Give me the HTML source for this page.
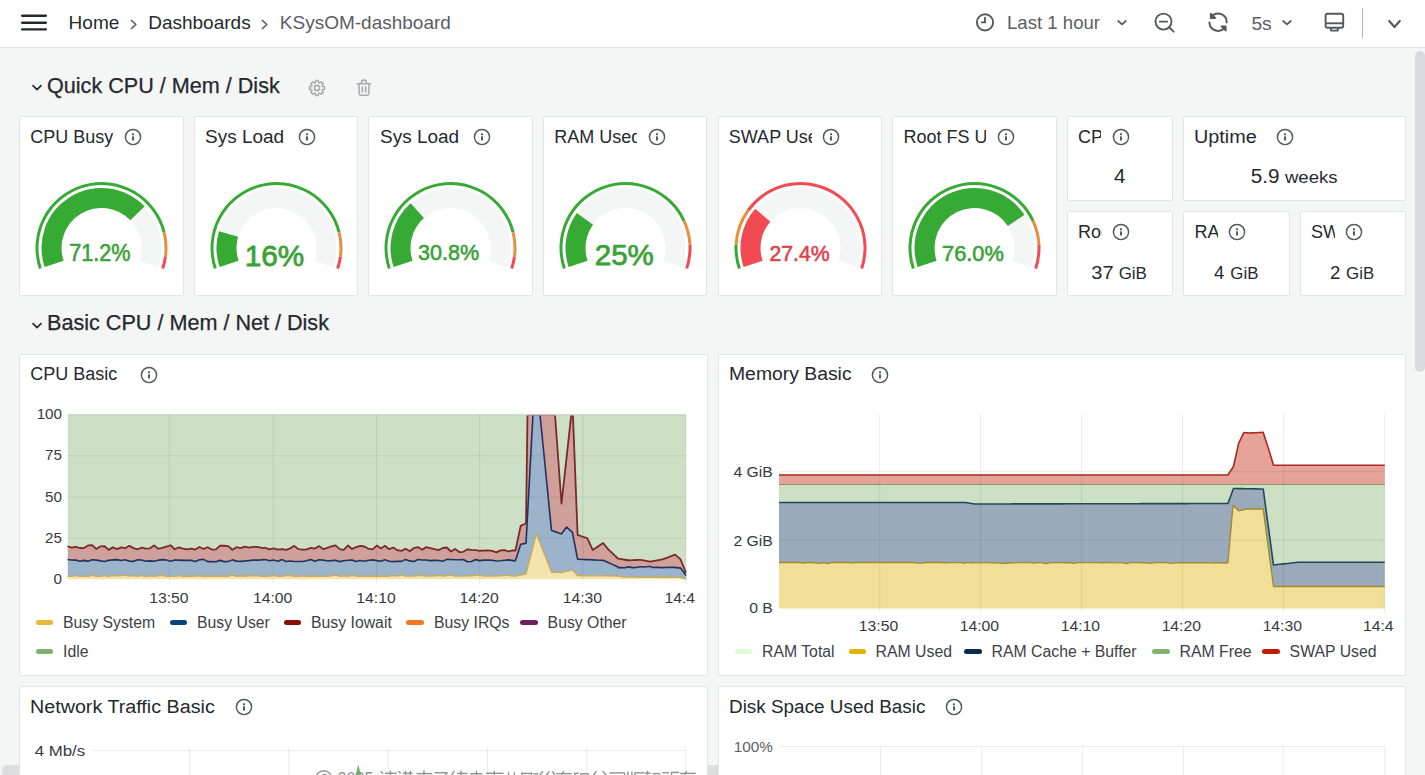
<!DOCTYPE html><html><head><meta charset="utf-8"><style>
html,body{margin:0;padding:0;width:1425px;height:775px;overflow:hidden;background:#f4f5f5;font-family:"Liberation Sans", sans-serif;}
.t{position:absolute;white-space:nowrap;}
.panel{position:absolute;box-sizing:border-box;background:#fff;border:1px solid #e3e4e5;border-radius:2px;overflow:hidden;}
.ptitle{position:absolute;left:10.3px;top:7.6px;height:24px;font-size:18px;line-height:24px;color:#24292e;white-space:nowrap;overflow:hidden;}
.gv{position:absolute;text-align:center;line-height:1;white-space:nowrap;}
.sv{position:absolute;text-align:center;white-space:nowrap;color:#24292e;}
.leg{position:absolute;height:5px;width:17.5px;border-radius:2.5px;}
</style></head><body><div style="position:absolute;left:0;top:0;width:1425px;height:47px;background:#fff;border-bottom:1px solid #e3e4e5"></div><svg style="position:absolute;left:20px;top:12px" width="28" height="22" viewBox="0 0 28 22"><rect x="1" y="2.6" width="26" height="2.3" rx="1.1" fill="#24292e"/><rect x="1" y="9.6" width="26" height="2.3" rx="1.1" fill="#24292e"/><rect x="1" y="16.2" width="26" height="2.3" rx="1.1" fill="#24292e"/></svg><div class="t" style="left:68.60px;top:12.92px;font-size:19px;line-height:19px;color:#24292e;">Home</div><svg style="position:absolute;left:129.5px;top:18.5px" width="8" height="11" viewBox="0 0 8 11"><path d="M1.5,1.5 L5.8,5.5 L1.5,9.5" fill="none" stroke="#5a5e63" stroke-width="1.7" stroke-linecap="round" stroke-linejoin="round"/></svg><div class="t" style="left:148.20px;top:12.92px;font-size:19px;line-height:19px;color:#24292e;">Dashboards</div><svg style="position:absolute;left:260.8px;top:18.5px" width="8" height="11" viewBox="0 0 8 11"><path d="M1.5,1.5 L5.8,5.5 L1.5,9.5" fill="none" stroke="#5a5e63" stroke-width="1.7" stroke-linecap="round" stroke-linejoin="round"/></svg><div class="t" style="left:279.80px;top:12.92px;font-size:19px;line-height:19px;color:#5a5e63;">KSysOM-dashboard</div><svg style="position:absolute;left:974px;top:11px" width="22" height="22" viewBox="0 0 22 22"><circle cx="11" cy="11.4" r="8.1" fill="none" stroke="#55595e" stroke-width="1.9"/><path d="M11,6.8 L11,11.4 L7.8,11.4" fill="none" stroke="#55595e" stroke-width="1.9" stroke-linecap="round"/></svg><div class="t" style="left:1007.00px;top:14.26px;font-size:18.6px;line-height:18.6px;color:#5a5e63;">Last 1 hour</div><svg style="position:absolute;left:1116px;top:19.2px" width="12" height="8" viewBox="0 0 12 8"><path d="M2.2,2 L6.0,5.4 L9.8,2" fill="none" stroke="#55595e" stroke-width="1.7" stroke-linecap="round" stroke-linejoin="round"/></svg><svg style="position:absolute;left:1153px;top:11px" width="24" height="24" viewBox="0 0 24 24"><circle cx="10.5" cy="10.6" r="8" fill="none" stroke="#55595e" stroke-width="1.9"/><path d="M6.8,10.6 L14.2,10.6 M16.3,16.4 L20.6,20.7" fill="none" stroke="#55595e" stroke-width="1.9" stroke-linecap="round"/></svg><svg style="position:absolute;left:1200px;top:5px" width="40" height="35" viewBox="0 0 40 35"><path d="M11.6,11.5 A8.6,8.6 0 0 1 26.66,17.4" fill="none" stroke="#55595e" stroke-width="2" stroke-linecap="round"/><path d="M9.46,17.6 A8.6,8.6 0 0 0 24.4,23" fill="none" stroke="#55595e" stroke-width="2" stroke-linecap="round"/><path d="M10.7,8.6 L10.7,13.1 L15.3,13.1 Z" fill="#55595e" stroke="#55595e" stroke-width="1.6" stroke-linejoin="round"/><path d="M21.3,21.3 L25.8,21.3 L25.8,25.8 Z" fill="#55595e" stroke="#55595e" stroke-width="1.6" stroke-linejoin="round"/></svg><div class="t" style="left:1251.40px;top:13.95px;font-size:19.2px;line-height:19.2px;color:#5a5e63;">5s</div><svg style="position:absolute;left:1280.6px;top:19.2px" width="12" height="8" viewBox="0 0 12 8"><path d="M2.2,2 L6.0,5.4 L9.8,2" fill="none" stroke="#55595e" stroke-width="1.7" stroke-linecap="round" stroke-linejoin="round"/></svg><svg style="position:absolute;left:1323px;top:11px" width="23" height="23" viewBox="0 0 23 23"><rect x="2.6" y="2.8" width="17.6" height="14" rx="2" fill="none" stroke="#55595e" stroke-width="1.9"/><path d="M2.6,12.3 L20.2,12.3" stroke="#55595e" stroke-width="1.9"/><path d="M8,17 L8,19.6 L14.8,19.6 L14.8,17" fill="none" stroke="#55595e" stroke-width="1.9" stroke-linejoin="round"/></svg><div style="position:absolute;left:1362px;top:8px;width:1px;height:30px;background:#b4b6b9"></div><svg style="position:absolute;left:1386.5px;top:19px" width="15" height="11" viewBox="0 0 15 11"><path d="M2.2,2 L7.5,8 L12.8,2" fill="none" stroke="#55595e" stroke-width="2.2" stroke-linecap="round" stroke-linejoin="round"/></svg><div style="position:absolute;left:1415px;top:51px;width:9.5px;height:321px;border-radius:5px;background:#d9dadd"></div><div style="position:absolute;left:2px;top:765px;width:1000px;height:12px;border-radius:5px;background:#dcdddf"></div><svg style="position:absolute;left:31px;top:84.00px" width="12" height="8" viewBox="0 0 12 8"><path d="M2,1.6 L6,5.6 L10,1.6" fill="none" stroke="#24292e" stroke-width="1.6" stroke-linecap="round" stroke-linejoin="round"/></svg><div class="t" style="left:47.00px;top:74.82px;font-size:21.6px;line-height:21.6px;color:#24292e;-webkit-text-stroke:0.25px #24292e;">Quick CPU / Mem / Disk</div><svg style="position:absolute;left:307px;top:78px" width="20" height="20" viewBox="0 0 20 20"><path d="M15.27,7.82 L15.51,8.52 L17.46,8.55 L17.46,11.45 L15.51,11.48 L15.27,12.18 L14.94,12.85 L16.30,14.25 L14.25,16.30 L12.85,14.94 L12.18,15.27 L11.48,15.51 L11.45,17.46 L8.55,17.46 L8.52,15.51 L7.82,15.27 L7.15,14.94 L5.75,16.30 L3.70,14.25 L5.06,12.85 L4.73,12.18 L4.49,11.48 L2.54,11.45 L2.54,8.55 L4.49,8.52 L4.73,7.82 L5.06,7.15 L3.70,5.75 L5.75,3.70 L7.15,5.06 L7.82,4.73 L8.52,4.49 L8.55,2.54 L11.45,2.54 L11.48,4.49 L12.18,4.73 L12.85,5.06 L14.25,3.70 L16.30,5.75 L14.94,7.15 Z" fill="none" stroke="#a9acaf" stroke-width="1.5" stroke-linejoin="round"/><circle cx="10" cy="10" r="2.6" fill="none" stroke="#a9acaf" stroke-width="1.6"/></svg><svg style="position:absolute;left:354px;top:78px" width="20" height="20" viewBox="0 0 20 20"><path d="M3.2,5.8 L16.6,5.8 M7.4,5.8 L7.4,4.6 A2.5,2.5 0 0 1 12.4,4.6 L12.4,5.8 M4.9,5.8 L5.2,15.6 A1.6,1.6 0 0 0 6.8,17.2 L13.2,17.2 A1.6,1.6 0 0 0 14.8,15.6 L15.1,5.8 M8.3,9 L8.3,14 M11.6,9 L11.6,14" fill="none" stroke="#a9acaf" stroke-width="1.6" stroke-linecap="round" stroke-linejoin="round"/></svg><svg style="position:absolute;left:31px;top:321.50px" width="12" height="8" viewBox="0 0 12 8"><path d="M2,1.6 L6,5.6 L10,1.6" fill="none" stroke="#24292e" stroke-width="1.6" stroke-linecap="round" stroke-linejoin="round"/></svg><div class="t" style="left:47.00px;top:312.32px;font-size:21.6px;line-height:21.6px;color:#24292e;-webkit-text-stroke:0.25px #24292e;">Basic CPU / Mem / Net / Disk</div><div class="panel" style="left:19.00px;top:116.00px;width:164.62px;height:180.00px"><svg style="position:absolute;left:0;top:0" width="164.62" height="180.00"><path d="M24.61,150.04 A60,60 0 1 1 138.41,150.04 L119.45,143.69 A40,40 0 1 0 43.58,143.69 Z" fill="#f4f5f5"/><path d="M24.61,150.04 A60,60 0 0 1 124.68,89.32 L110.29,103.22 A40,40 0 0 0 43.58,143.69 Z" fill="#37a935"/><path d="M18.92,151.94 A66,66 0 1 1 145.54,114.98 L142.63,115.71 A63,63 0 1 0 21.77,150.99 Z" fill="#37a935"/><path d="M145.54,114.98 A66,66 0 0 1 146.93,139.79 L143.95,139.39 A63,63 0 0 0 142.63,115.71 Z" fill="#e98e3d"/><path d="M146.93,139.79 A66,66 0 0 1 144.10,151.94 L141.26,150.99 A63,63 0 0 0 143.95,139.39 Z" fill="#f24a52"/></svg><div class="ptitle" style="width:83px">CPU Busy</div><svg style="position:absolute;left:103.8px;top:11.100000000000005px" width="18" height="18" viewBox="0 0 18 18"><circle cx="9" cy="9" r="7.6" fill="none" stroke="#55595e" stroke-width="1.45"/><rect x="8" y="5.3" width="2" height="1.9" rx="0.5" fill="#55595e"/><rect x="8" y="8.3" width="2" height="4.3" rx="0.5" fill="#55595e"/></svg><svg style="position:absolute;left:0;top:0" width="164.62" height="180.00"><text x="49.30" y="144.00" font-family="Liberation Sans" font-size="23.0" textLength="61.2" lengthAdjust="spacingAndGlyphs" fill="#3aa236" stroke="#3aa236" stroke-width="0.60">71.2%</text></svg></div><div class="panel" style="left:193.62px;top:116.00px;width:164.62px;height:180.00px"><svg style="position:absolute;left:0;top:0" width="164.62" height="180.00"><path d="M24.61,150.04 A60,60 0 1 1 138.41,150.04 L119.45,143.69 A40,40 0 1 0 43.58,143.69 Z" fill="#f4f5f5"/><path d="M24.61,150.04 A60,60 0 0 1 23.90,114.24 L43.10,119.83 A40,40 0 0 0 43.58,143.69 Z" fill="#37a935"/><path d="M18.92,151.94 A66,66 0 1 1 145.54,114.98 L142.63,115.71 A63,63 0 1 0 21.77,150.99 Z" fill="#37a935"/><path d="M145.54,114.98 A66,66 0 0 1 146.93,139.79 L143.95,139.39 A63,63 0 0 0 142.63,115.71 Z" fill="#e98e3d"/><path d="M146.93,139.79 A66,66 0 0 1 144.10,151.94 L141.26,150.99 A63,63 0 0 0 143.95,139.39 Z" fill="#f24a52"/></svg><div class="ptitle" style="width:83px"><span style="display:inline-block;transform:scaleX(1.055);transform-origin:0 0">Sys Load</span></div><svg style="position:absolute;left:103.8px;top:11.100000000000005px" width="18" height="18" viewBox="0 0 18 18"><circle cx="9" cy="9" r="7.6" fill="none" stroke="#55595e" stroke-width="1.45"/><rect x="8" y="5.3" width="2" height="1.9" rx="0.5" fill="#55595e"/><rect x="8" y="8.3" width="2" height="4.3" rx="0.5" fill="#55595e"/></svg><svg style="position:absolute;left:0;top:0" width="164.62" height="180.00"><text x="49.72" y="149.30" font-family="Liberation Sans" font-size="29.9" textLength="59.5" lengthAdjust="spacingAndGlyphs" fill="#3aa236" stroke="#3aa236" stroke-width="0.78">16%</text></svg></div><div class="panel" style="left:368.25px;top:116.00px;width:164.62px;height:180.00px"><svg style="position:absolute;left:0;top:0" width="164.62" height="180.00"><path d="M24.61,150.04 A60,60 0 1 1 138.41,150.04 L119.45,143.69 A40,40 0 1 0 43.58,143.69 Z" fill="#f4f5f5"/><path d="M24.61,150.04 A60,60 0 0 1 41.63,86.18 L54.92,101.12 A40,40 0 0 0 43.58,143.69 Z" fill="#37a935"/><path d="M18.92,151.94 A66,66 0 1 1 145.54,114.98 L142.63,115.71 A63,63 0 1 0 21.77,150.99 Z" fill="#37a935"/><path d="M145.54,114.98 A66,66 0 0 1 146.93,139.79 L143.95,139.39 A63,63 0 0 0 142.63,115.71 Z" fill="#e98e3d"/><path d="M146.93,139.79 A66,66 0 0 1 144.10,151.94 L141.26,150.99 A63,63 0 0 0 143.95,139.39 Z" fill="#f24a52"/></svg><div class="ptitle" style="width:83px"><span style="display:inline-block;transform:scaleX(1.055);transform-origin:0 0">Sys Load</span></div><svg style="position:absolute;left:103.8px;top:11.100000000000005px" width="18" height="18" viewBox="0 0 18 18"><circle cx="9" cy="9" r="7.6" fill="none" stroke="#55595e" stroke-width="1.45"/><rect x="8" y="5.3" width="2" height="1.9" rx="0.5" fill="#55595e"/><rect x="8" y="8.3" width="2" height="4.3" rx="0.5" fill="#55595e"/></svg><svg style="position:absolute;left:0;top:0" width="164.62" height="180.00"><text x="49.05" y="143.20" font-family="Liberation Sans" font-size="21.95" textLength="61.2" lengthAdjust="spacingAndGlyphs" fill="#3aa236" stroke="#3aa236" stroke-width="0.57">30.8%</text></svg></div><div class="panel" style="left:542.88px;top:116.00px;width:164.62px;height:180.00px"><svg style="position:absolute;left:0;top:0" width="164.62" height="180.00"><path d="M24.61,150.04 A60,60 0 1 1 138.41,150.04 L119.45,143.69 A40,40 0 1 0 43.58,143.69 Z" fill="#f4f5f5"/><path d="M24.61,150.04 A60,60 0 0 1 32.82,95.95 L49.05,107.63 A40,40 0 0 0 43.58,143.69 Z" fill="#37a935"/><path d="M18.92,151.94 A66,66 0 0 1 141.38,103.21 L138.66,104.47 A63,63 0 0 0 21.77,150.99 Z" fill="#37a935"/><path d="M141.38,103.21 A66,66 0 0 1 147.41,127.32 L144.41,127.48 A63,63 0 0 0 138.66,104.47 Z" fill="#e98e3d"/><path d="M147.41,127.32 A66,66 0 0 1 144.10,151.94 L141.26,150.99 A63,63 0 0 0 144.41,127.48 Z" fill="#f24a52"/></svg><div class="ptitle" style="width:83px">RAM Used</div><svg style="position:absolute;left:103.8px;top:11.100000000000005px" width="18" height="18" viewBox="0 0 18 18"><circle cx="9" cy="9" r="7.6" fill="none" stroke="#55595e" stroke-width="1.45"/><rect x="8" y="5.3" width="2" height="1.9" rx="0.5" fill="#55595e"/><rect x="8" y="8.3" width="2" height="4.3" rx="0.5" fill="#55595e"/></svg><svg style="position:absolute;left:0;top:0" width="164.62" height="180.00"><text x="50.77" y="147.80" font-family="Liberation Sans" font-size="28.9" textLength="59.1" lengthAdjust="spacingAndGlyphs" fill="#3aa236" stroke="#3aa236" stroke-width="0.75">25%</text></svg></div><div class="panel" style="left:717.50px;top:116.00px;width:164.62px;height:180.00px"><svg style="position:absolute;left:0;top:0" width="164.62" height="180.00"><path d="M24.61,150.04 A60,60 0 1 1 138.41,150.04 L119.45,143.69 A40,40 0 1 0 43.58,143.69 Z" fill="#f4f5f5"/><path d="M24.61,150.04 A60,60 0 0 1 36.20,91.67 L51.30,104.78 A40,40 0 0 0 43.58,143.69 Z" fill="#f24a52"/><path d="M18.92,151.94 A66,66 0 0 1 15.62,127.32 L18.61,127.48 A63,63 0 0 0 21.77,150.99 Z" fill="#37a935"/><path d="M15.62,127.32 A66,66 0 0 1 27.95,92.44 L30.38,94.19 A63,63 0 0 0 18.61,127.48 Z" fill="#e98e3d"/><path d="M27.95,92.44 A66,66 0 0 1 144.10,151.94 L141.26,150.99 A63,63 0 0 0 30.38,94.19 Z" fill="#f24a52"/></svg><div class="ptitle" style="width:83px">SWAP Used</div><svg style="position:absolute;left:103.8px;top:11.100000000000005px" width="18" height="18" viewBox="0 0 18 18"><circle cx="9" cy="9" r="7.6" fill="none" stroke="#55595e" stroke-width="1.45"/><rect x="8" y="5.3" width="2" height="1.9" rx="0.5" fill="#55595e"/><rect x="8" y="8.3" width="2" height="4.3" rx="0.5" fill="#55595e"/></svg><svg style="position:absolute;left:0;top:0" width="164.62" height="180.00"><text x="50.40" y="144.20" font-family="Liberation Sans" font-size="22.21" textLength="60.2" lengthAdjust="spacingAndGlyphs" fill="#e0424c" stroke="#e0424c" stroke-width="0.58">27.4%</text></svg></div><div class="panel" style="left:892.12px;top:116.00px;width:164.62px;height:180.00px"><svg style="position:absolute;left:0;top:0" width="164.62" height="180.00"><path d="M24.61,150.04 A60,60 0 1 1 138.41,150.04 L119.45,143.69 A40,40 0 1 0 43.58,143.69 Z" fill="#f4f5f5"/><path d="M24.61,150.04 A60,60 0 0 1 131.50,97.81 L114.84,108.88 A40,40 0 0 0 43.58,143.69 Z" fill="#37a935"/><path d="M18.92,151.94 A66,66 0 0 1 141.38,103.21 L138.66,104.47 A63,63 0 0 0 21.77,150.99 Z" fill="#37a935"/><path d="M141.38,103.21 A66,66 0 0 1 147.41,127.32 L144.41,127.48 A63,63 0 0 0 138.66,104.47 Z" fill="#e98e3d"/><path d="M147.41,127.32 A66,66 0 0 1 144.10,151.94 L141.26,150.99 A63,63 0 0 0 144.41,127.48 Z" fill="#f24a52"/></svg><div class="ptitle" style="width:83px">Root FS Used</div><svg style="position:absolute;left:103.8px;top:11.100000000000005px" width="18" height="18" viewBox="0 0 18 18"><circle cx="9" cy="9" r="7.6" fill="none" stroke="#55595e" stroke-width="1.45"/><rect x="8" y="5.3" width="2" height="1.9" rx="0.5" fill="#55595e"/><rect x="8" y="8.3" width="2" height="4.3" rx="0.5" fill="#55595e"/></svg><svg style="position:absolute;left:0;top:0" width="164.62" height="180.00"><text x="49.02" y="144.00" font-family="Liberation Sans" font-size="21.8" textLength="61.8" lengthAdjust="spacingAndGlyphs" fill="#3aa236" stroke="#3aa236" stroke-width="0.57">76.0%</text></svg></div><div class="panel" style="left:1066.75px;top:116.00px;width:106.42px;height:85.00px"><div class="ptitle" style="width:23px">CPU Cores</div><svg style="position:absolute;left:44.3px;top:11.100000000000005px" width="18" height="18" viewBox="0 0 18 18"><circle cx="9" cy="9" r="7.6" fill="none" stroke="#55595e" stroke-width="1.45"/><rect x="8" y="5.3" width="2" height="1.9" rx="0.5" fill="#55595e"/><rect x="8" y="8.3" width="2" height="4.3" rx="0.5" fill="#55595e"/></svg><svg style="position:absolute;left:-1067.75px;top:-117.00px" width="1425" height="400"><text x="1114.0" y="183.35" font-family="Liberation Sans" font-size="19.54" textLength="11.45" lengthAdjust="spacingAndGlyphs" fill="#24292e">4</text></svg></div><div class="panel" style="left:1183.17px;top:116.00px;width:222.83px;height:85.00px"><div class="ptitle" style="width:120px"><span style="display:inline-block;transform:scaleX(1.1);transform-origin:0 0">Uptime</span></div><svg style="position:absolute;left:91.6px;top:11.100000000000005px" width="18" height="18" viewBox="0 0 18 18"><circle cx="9" cy="9" r="7.6" fill="none" stroke="#55595e" stroke-width="1.45"/><rect x="8" y="5.3" width="2" height="1.9" rx="0.5" fill="#55595e"/><rect x="8" y="8.3" width="2" height="4.3" rx="0.5" fill="#55595e"/></svg><svg style="position:absolute;left:-1184.17px;top:-117.00px" width="1425" height="400"><text x="1250.65" y="183.35" font-family="Liberation Sans" font-size="19.54" textLength="28.79" lengthAdjust="spacingAndGlyphs" fill="#24292e">5.9</text><text x="1284.95" y="183.35" font-family="Liberation Sans" font-size="16.03" textLength="52.64" lengthAdjust="spacingAndGlyphs" fill="#24292e">weeks</text></svg></div><div class="panel" style="left:1066.75px;top:211.00px;width:106.42px;height:85.00px"><div class="ptitle" style="width:24px">RootFS Total</div><svg style="position:absolute;left:44.2px;top:11.100000000000005px" width="18" height="18" viewBox="0 0 18 18"><circle cx="9" cy="9" r="7.6" fill="none" stroke="#55595e" stroke-width="1.45"/><rect x="8" y="5.3" width="2" height="1.9" rx="0.5" fill="#55595e"/><rect x="8" y="8.3" width="2" height="4.3" rx="0.5" fill="#55595e"/></svg><svg style="position:absolute;left:-1067.75px;top:-212.00px" width="1425" height="400"><text x="1091.25" y="278.8" font-family="Liberation Sans" font-size="19.04" textLength="22.36" lengthAdjust="spacingAndGlyphs" fill="#24292e">37</text><text x="1118.65" y="279.15" font-family="Liberation Sans" font-size="17.25" textLength="28.28" lengthAdjust="spacingAndGlyphs" fill="#24292e">GiB</text></svg></div><div class="panel" style="left:1183.17px;top:211.00px;width:106.42px;height:85.00px"><div class="ptitle" style="width:24px">RAM Total</div><svg style="position:absolute;left:44.2px;top:11.100000000000005px" width="18" height="18" viewBox="0 0 18 18"><circle cx="9" cy="9" r="7.6" fill="none" stroke="#55595e" stroke-width="1.45"/><rect x="8" y="5.3" width="2" height="1.9" rx="0.5" fill="#55595e"/><rect x="8" y="8.3" width="2" height="4.3" rx="0.5" fill="#55595e"/></svg><svg style="position:absolute;left:-1184.17px;top:-212.00px" width="1425" height="400"><text x="1214.0" y="278.8" font-family="Liberation Sans" font-size="19.04" textLength="10.28" lengthAdjust="spacingAndGlyphs" fill="#24292e">4</text><text x="1230.3" y="279.15" font-family="Liberation Sans" font-size="17.25" textLength="28.11" lengthAdjust="spacingAndGlyphs" fill="#24292e">GiB</text></svg></div><div class="panel" style="left:1299.58px;top:211.00px;width:106.42px;height:85.00px"><div class="ptitle" style="width:24px">SWAP Total</div><svg style="position:absolute;left:44.2px;top:11.100000000000005px" width="18" height="18" viewBox="0 0 18 18"><circle cx="9" cy="9" r="7.6" fill="none" stroke="#55595e" stroke-width="1.45"/><rect x="8" y="5.3" width="2" height="1.9" rx="0.5" fill="#55595e"/><rect x="8" y="8.3" width="2" height="4.3" rx="0.5" fill="#55595e"/></svg><svg style="position:absolute;left:-1300.58px;top:-212.00px" width="1425" height="400"><text x="1330.1" y="278.8" font-family="Liberation Sans" font-size="19.04" textLength="10.4" lengthAdjust="spacingAndGlyphs" fill="#24292e">2</text><text x="1346.1" y="279.15" font-family="Liberation Sans" font-size="17.25" textLength="28.07" lengthAdjust="spacingAndGlyphs" fill="#24292e">GiB</text></svg></div><div class="panel" style="left:19.00px;top:353.50px;width:688.50px;height:322.50px"><div class="ptitle" style="width:200px">CPU Basic</div><svg style="position:absolute;left:119.7px;top:11.00000000000001px" width="18" height="18" viewBox="0 0 18 18"><circle cx="9" cy="9" r="7.6" fill="none" stroke="#55595e" stroke-width="1.45"/><rect x="8" y="5.3" width="2" height="1.9" rx="0.5" fill="#55595e"/><rect x="8" y="8.3" width="2" height="4.3" rx="0.5" fill="#55595e"/></svg></div><div class="panel" style="left:717.50px;top:353.50px;width:688.50px;height:322.50px"><div class="ptitle" style="width:200px;transform:scaleX(1.075);transform-origin:0 0">Memory Basic</div><svg style="position:absolute;left:152.59999999999997px;top:11.00000000000001px" width="18" height="18" viewBox="0 0 18 18"><circle cx="9" cy="9" r="7.6" fill="none" stroke="#55595e" stroke-width="1.45"/><rect x="8" y="5.3" width="2" height="1.9" rx="0.5" fill="#55595e"/><rect x="8" y="8.3" width="2" height="4.3" rx="0.5" fill="#55595e"/></svg></div><div class="panel" style="left:19.00px;top:686.00px;width:688.50px;height:322.50px"><div class="ptitle" style="width:300px;transform:scaleX(1.095);transform-origin:0 0">Network Traffic Basic</div><svg style="position:absolute;left:214.8px;top:11.099999999999977px" width="18" height="18" viewBox="0 0 18 18"><circle cx="9" cy="9" r="7.6" fill="none" stroke="#55595e" stroke-width="1.45"/><rect x="8" y="5.3" width="2" height="1.9" rx="0.5" fill="#55595e"/><rect x="8" y="8.3" width="2" height="4.3" rx="0.5" fill="#55595e"/></svg></div><div class="panel" style="left:717.50px;top:686.00px;width:688.50px;height:322.50px"><div class="ptitle" style="width:300px;transform:scaleX(1.05);transform-origin:0 0">Disk Space Used Basic</div><svg style="position:absolute;left:226.8px;top:11.099999999999977px" width="18" height="18" viewBox="0 0 18 18"><circle cx="9" cy="9" r="7.6" fill="none" stroke="#55595e" stroke-width="1.45"/><rect x="8" y="5.3" width="2" height="1.9" rx="0.5" fill="#55595e"/><rect x="8" y="8.3" width="2" height="4.3" rx="0.5" fill="#55595e"/></svg></div><svg style="position:absolute;left:0;top:0" width="1425" height="775"><clipPath id="cpuclip"><rect x="67.5" y="413.5" width="618.5" height="166.0"/></clipPath><g clip-path="url(#cpuclip)"><polygon points="67.50,414.50 71.62,414.50 75.75,414.50 79.87,414.50 83.99,414.50 88.12,414.50 92.24,414.50 96.36,414.50 100.49,414.50 104.61,414.50 108.73,414.50 112.86,414.50 116.98,414.50 121.10,414.50 125.23,414.50 129.35,414.50 133.47,414.50 137.60,414.50 141.72,414.50 145.84,414.50 149.97,414.50 154.09,414.50 158.21,414.50 162.34,414.50 166.46,414.50 170.58,414.50 174.71,414.50 178.83,414.50 182.95,414.50 187.08,414.50 191.20,414.50 195.32,414.50 199.45,414.50 203.57,414.50 207.69,414.50 211.82,414.50 215.94,414.50 220.06,414.50 224.19,414.50 228.31,414.50 232.43,414.50 236.56,414.50 240.68,414.50 244.80,414.50 248.93,414.50 253.05,414.50 257.17,414.50 261.30,414.50 265.42,414.50 269.54,414.50 273.67,414.50 277.79,414.50 281.91,414.50 286.04,414.50 290.16,414.50 294.28,414.50 298.41,414.50 302.53,414.50 306.65,414.50 310.78,414.50 314.90,414.50 319.02,414.50 323.15,414.50 327.27,414.50 331.39,414.50 335.52,414.50 339.64,414.50 343.76,414.50 347.89,414.50 352.01,414.50 356.13,414.50 360.26,414.50 364.38,414.50 368.50,414.50 370.00,414.50 372.63,414.50 376.75,414.50 380.87,414.50 385.00,414.50 389.12,414.50 393.24,414.50 397.37,414.50 401.49,414.50 405.61,414.50 409.74,414.50 413.86,414.50 417.98,414.50 422.11,414.50 426.23,414.50 430.00,414.50 430.35,414.50 434.48,414.50 438.60,414.50 442.72,414.50 446.85,414.50 450.97,414.50 455.09,414.50 459.22,414.50 463.34,414.50 467.46,414.50 471.59,414.50 475.71,414.50 479.83,414.50 483.96,414.50 488.08,414.50 492.20,414.50 496.33,414.50 500.45,414.50 504.57,414.50 508.70,414.50 512.82,414.50 515.00,414.50 515.50,414.50 516.94,414.50 520.70,414.50 521.07,414.50 525.19,414.50 526.00,414.50 527.50,414.50 529.31,414.50 533.00,414.50 533.44,414.50 536.40,414.50 537.56,414.50 540.00,414.50 541.68,414.50 545.81,414.50 549.93,414.50 551.50,414.50 554.05,414.50 555.00,414.50 558.18,414.50 561.50,414.50 562.00,414.50 562.30,414.50 566.42,414.50 566.60,414.50 570.55,414.50 571.30,414.50 572.40,414.50 572.90,414.50 574.67,414.50 577.60,414.50 577.80,414.50 578.79,414.50 582.92,414.50 587.04,414.50 587.40,414.50 591.16,414.50 592.70,414.50 595.29,414.50 599.41,414.50 603.10,414.50 603.53,414.50 603.70,414.50 607.66,414.50 608.30,414.50 611.78,414.50 615.90,414.50 618.00,414.50 618.20,414.50 620.03,414.50 624.15,414.50 625.00,414.50 628.27,414.50 629.20,414.50 632.40,414.50 636.52,414.50 639.70,414.50 640.64,414.50 644.77,414.50 648.89,414.50 650.20,414.50 653.01,414.50 657.14,414.50 661.26,414.50 663.00,414.50 665.38,414.50 669.51,414.50 673.63,414.50 675.00,414.50 675.10,414.50 677.75,414.50 680.00,414.50 680.40,414.50 681.88,414.50 686.00,414.50 686.00,572.60 681.88,562.73 680.40,559.20 680.00,558.85 677.75,556.90 675.10,554.60 675.00,554.64 673.63,555.16 669.51,556.73 665.38,558.29 663.00,559.20 661.26,559.53 657.14,560.30 653.01,561.07 650.20,561.60 648.89,561.38 644.77,560.67 640.64,559.96 639.70,559.80 636.52,559.98 632.40,560.22 629.20,560.40 628.27,560.26 625.00,559.75 624.15,559.62 620.03,558.98 618.20,558.70 618.00,558.51 615.90,556.54 611.78,552.67 608.30,549.40 607.66,548.61 603.70,543.74 603.53,543.53 603.10,543.00 599.41,545.48 595.29,548.26 592.70,550.00 591.16,546.61 587.40,538.30 587.04,538.18 582.92,536.74 578.79,535.31 577.80,534.97 577.60,534.90 574.67,459.84 572.90,414.50 572.40,414.50 571.30,414.50 570.55,421.36 566.60,457.28 566.42,458.89 562.30,496.42 562.00,499.15 561.50,503.70 558.18,458.09 555.00,414.50 554.05,414.50 551.50,414.50 549.93,414.50 545.81,414.50 541.68,414.50 540.00,414.50 537.56,414.50 536.40,414.50 533.44,414.50 533.00,414.50 529.31,414.50 527.50,414.50 526.00,523.40 525.19,523.77 521.07,525.63 520.70,525.80 516.94,543.64 515.50,550.50 515.00,550.49 512.82,550.47 508.70,551.48 504.57,550.04 500.45,550.36 496.33,552.39 492.20,550.80 488.08,550.46 483.96,550.59 479.83,550.77 475.71,550.13 471.59,549.80 467.46,549.35 463.34,551.79 459.22,552.04 455.09,548.90 450.97,551.51 446.85,547.50 442.72,548.00 438.60,550.13 434.48,549.11 430.35,548.05 430.00,548.05 426.23,547.12 422.11,549.72 417.98,547.07 413.86,548.05 409.74,551.22 405.61,548.71 401.49,550.86 397.37,550.24 393.24,547.46 389.12,549.19 385.00,545.82 380.87,548.41 376.75,545.54 372.63,549.38 370.00,548.79 368.50,548.79 364.38,546.51 360.26,545.82 356.13,547.07 352.01,548.94 347.89,545.52 343.76,549.85 339.64,549.20 335.52,545.40 331.39,546.47 327.27,547.85 323.15,549.09 319.02,546.11 314.90,548.53 310.78,547.83 306.65,549.44 302.53,549.73 298.41,549.23 294.28,545.88 290.16,548.32 286.04,549.86 281.91,549.21 277.79,549.56 273.67,548.37 269.54,549.44 265.42,547.90 261.30,547.91 257.17,546.78 253.05,546.95 248.93,547.53 244.80,546.54 240.68,548.11 236.56,547.19 232.43,549.73 228.31,546.14 224.19,545.75 220.06,545.57 215.94,549.32 211.82,549.59 207.69,547.23 203.57,548.94 199.45,547.00 195.32,549.52 191.20,548.53 187.08,549.32 182.95,548.55 178.83,547.37 174.71,549.25 170.58,545.25 166.46,546.55 162.34,547.94 158.21,548.74 154.09,545.41 149.97,548.32 145.84,548.66 141.72,547.61 137.60,549.27 133.47,548.15 129.35,545.82 125.23,548.17 121.10,547.39 116.98,549.12 112.86,547.36 108.73,549.88 104.61,546.22 100.49,546.34 96.36,549.12 92.24,545.16 88.12,545.41 83.99,548.10 79.87,548.00 75.75,546.88 71.62,547.71 67.50,546.24" fill="#cde0c5"/><polygon points="67.50,546.24 71.62,547.71 75.75,546.88 79.87,548.00 83.99,548.10 88.12,545.41 92.24,545.16 96.36,549.12 100.49,546.34 104.61,546.22 108.73,549.88 112.86,547.36 116.98,549.12 121.10,547.39 125.23,548.17 129.35,545.82 133.47,548.15 137.60,549.27 141.72,547.61 145.84,548.66 149.97,548.32 154.09,545.41 158.21,548.74 162.34,547.94 166.46,546.55 170.58,545.25 174.71,549.25 178.83,547.37 182.95,548.55 187.08,549.32 191.20,548.53 195.32,549.52 199.45,547.00 203.57,548.94 207.69,547.23 211.82,549.59 215.94,549.32 220.06,545.57 224.19,545.75 228.31,546.14 232.43,549.73 236.56,547.19 240.68,548.11 244.80,546.54 248.93,547.53 253.05,546.95 257.17,546.78 261.30,547.91 265.42,547.90 269.54,549.44 273.67,548.37 277.79,549.56 281.91,549.21 286.04,549.86 290.16,548.32 294.28,545.88 298.41,549.23 302.53,549.73 306.65,549.44 310.78,547.83 314.90,548.53 319.02,546.11 323.15,549.09 327.27,547.85 331.39,546.47 335.52,545.40 339.64,549.20 343.76,549.85 347.89,545.52 352.01,548.94 356.13,547.07 360.26,545.82 364.38,546.51 368.50,548.79 370.00,548.79 372.63,549.38 376.75,545.54 380.87,548.41 385.00,545.82 389.12,549.19 393.24,547.46 397.37,550.24 401.49,550.86 405.61,548.71 409.74,551.22 413.86,548.05 417.98,547.07 422.11,549.72 426.23,547.12 430.00,548.05 430.35,548.05 434.48,549.11 438.60,550.13 442.72,548.00 446.85,547.50 450.97,551.51 455.09,548.90 459.22,552.04 463.34,551.79 467.46,549.35 471.59,549.80 475.71,550.13 479.83,550.77 483.96,550.59 488.08,550.46 492.20,550.80 496.33,552.39 500.45,550.36 504.57,550.04 508.70,551.48 512.82,550.47 515.00,550.49 515.50,550.50 516.94,543.64 520.70,525.80 521.07,525.63 525.19,523.77 526.00,523.40 527.50,414.50 529.31,414.50 533.00,414.50 533.44,414.50 536.40,414.50 537.56,414.50 540.00,414.50 541.68,414.50 545.81,414.50 549.93,414.50 551.50,414.50 554.05,414.50 555.00,414.50 558.18,458.09 561.50,503.70 562.00,499.15 562.30,496.42 566.42,458.89 566.60,457.28 570.55,421.36 571.30,414.50 572.40,414.50 572.90,414.50 574.67,459.84 577.60,534.90 577.80,534.97 578.79,535.31 582.92,536.74 587.04,538.18 587.40,538.30 591.16,546.61 592.70,550.00 595.29,548.26 599.41,545.48 603.10,543.00 603.53,543.53 603.70,543.74 607.66,548.61 608.30,549.40 611.78,552.67 615.90,556.54 618.00,558.51 618.20,558.70 620.03,558.98 624.15,559.62 625.00,559.75 628.27,560.26 629.20,560.40 632.40,560.22 636.52,559.98 639.70,559.80 640.64,559.96 644.77,560.67 648.89,561.38 650.20,561.60 653.01,561.07 657.14,560.30 661.26,559.53 663.00,559.20 665.38,558.29 669.51,556.73 673.63,555.16 675.00,554.64 675.10,554.60 677.75,556.90 680.00,558.85 680.40,559.20 681.88,562.73 686.00,572.60 686.00,575.43 681.88,569.72 680.40,567.93 680.00,567.82 677.75,567.86 675.10,567.36 675.00,567.34 673.63,567.34 669.51,567.25 665.38,567.44 663.00,567.58 661.26,567.58 657.14,567.27 653.01,567.49 650.20,566.50 648.89,566.50 644.77,567.00 640.64,566.72 639.70,566.72 636.52,567.49 632.40,567.65 629.20,566.90 628.27,566.90 625.00,567.72 624.15,567.72 620.03,567.64 618.20,567.65 618.00,567.01 615.90,566.04 611.78,564.13 608.30,562.53 607.66,562.23 603.70,560.40 603.53,560.39 603.10,560.37 599.41,560.20 595.29,560.01 592.70,559.89 591.16,559.82 587.40,559.65 587.04,559.63 582.92,559.44 578.79,559.25 577.80,559.21 577.60,559.20 574.67,544.04 572.90,534.89 572.40,532.30 571.30,531.29 570.55,530.61 566.60,527.00 566.42,527.24 562.30,532.82 562.00,533.22 561.50,533.90 558.18,532.74 555.00,531.62 554.05,531.29 551.50,530.40 549.93,514.58 545.81,473.02 541.68,431.47 540.00,414.50 537.56,414.50 536.40,414.50 533.44,414.50 533.00,414.50 529.31,482.28 527.50,515.62 526.00,543.20 525.19,543.37 521.07,544.22 520.70,544.30 516.94,556.08 515.50,560.60 515.00,560.60 512.82,560.60 508.70,559.86 504.57,560.26 500.45,560.80 496.33,560.95 492.20,560.24 488.08,560.15 483.96,560.15 479.83,560.60 475.71,559.60 471.59,561.44 467.46,561.73 463.34,559.55 459.22,559.69 455.09,559.69 450.97,559.52 446.85,559.39 442.72,561.25 438.60,560.52 434.48,560.40 430.35,560.65 430.00,560.65 426.23,560.02 422.11,560.03 417.98,559.50 413.86,561.45 409.74,560.89 405.61,559.39 401.49,561.35 397.37,561.31 393.24,561.58 389.12,561.27 385.00,559.78 380.87,561.33 376.75,560.65 372.63,559.84 370.00,560.21 368.50,560.21 364.38,561.24 360.26,560.51 356.13,561.43 352.01,559.97 347.89,560.18 343.76,560.83 339.64,561.61 335.52,560.35 331.39,560.62 327.27,560.95 323.15,560.08 319.02,559.77 314.90,561.14 310.78,559.39 306.65,560.74 302.53,561.51 298.41,561.50 294.28,561.57 290.16,561.01 286.04,561.52 281.91,559.46 277.79,561.29 273.67,560.03 269.54,560.76 265.42,559.51 261.30,559.89 257.17,560.16 253.05,560.04 248.93,560.59 244.80,560.93 240.68,561.35 236.56,561.13 232.43,559.87 228.31,561.56 224.19,561.62 220.06,560.38 215.94,561.70 211.82,561.44 207.69,561.60 203.57,559.34 199.45,559.70 195.32,561.54 191.20,560.31 187.08,560.33 182.95,560.33 178.83,560.16 174.71,559.97 170.58,561.23 166.46,560.02 162.34,559.63 158.21,560.15 154.09,561.25 149.97,560.86 145.84,561.25 141.72,559.99 137.60,559.76 133.47,561.33 129.35,561.25 125.23,559.77 121.10,560.58 116.98,559.60 112.86,559.85 108.73,560.39 104.61,561.43 100.49,560.87 96.36,560.11 92.24,559.71 88.12,561.36 83.99,560.36 79.87,561.30 75.75,560.10 71.62,560.07 67.50,559.54" fill="#d0a09a"/><polygon points="67.50,559.54 71.62,560.07 75.75,560.10 79.87,561.30 83.99,560.36 88.12,561.36 92.24,559.71 96.36,560.11 100.49,560.87 104.61,561.43 108.73,560.39 112.86,559.85 116.98,559.60 121.10,560.58 125.23,559.77 129.35,561.25 133.47,561.33 137.60,559.76 141.72,559.99 145.84,561.25 149.97,560.86 154.09,561.25 158.21,560.15 162.34,559.63 166.46,560.02 170.58,561.23 174.71,559.97 178.83,560.16 182.95,560.33 187.08,560.33 191.20,560.31 195.32,561.54 199.45,559.70 203.57,559.34 207.69,561.60 211.82,561.44 215.94,561.70 220.06,560.38 224.19,561.62 228.31,561.56 232.43,559.87 236.56,561.13 240.68,561.35 244.80,560.93 248.93,560.59 253.05,560.04 257.17,560.16 261.30,559.89 265.42,559.51 269.54,560.76 273.67,560.03 277.79,561.29 281.91,559.46 286.04,561.52 290.16,561.01 294.28,561.57 298.41,561.50 302.53,561.51 306.65,560.74 310.78,559.39 314.90,561.14 319.02,559.77 323.15,560.08 327.27,560.95 331.39,560.62 335.52,560.35 339.64,561.61 343.76,560.83 347.89,560.18 352.01,559.97 356.13,561.43 360.26,560.51 364.38,561.24 368.50,560.21 370.00,560.21 372.63,559.84 376.75,560.65 380.87,561.33 385.00,559.78 389.12,561.27 393.24,561.58 397.37,561.31 401.49,561.35 405.61,559.39 409.74,560.89 413.86,561.45 417.98,559.50 422.11,560.03 426.23,560.02 430.00,560.65 430.35,560.65 434.48,560.40 438.60,560.52 442.72,561.25 446.85,559.39 450.97,559.52 455.09,559.69 459.22,559.69 463.34,559.55 467.46,561.73 471.59,561.44 475.71,559.60 479.83,560.60 483.96,560.15 488.08,560.15 492.20,560.24 496.33,560.95 500.45,560.80 504.57,560.26 508.70,559.86 512.82,560.60 515.00,560.60 515.50,560.60 516.94,556.08 520.70,544.30 521.07,544.22 525.19,543.37 526.00,543.20 527.50,515.62 529.31,482.28 533.00,414.50 533.44,414.50 536.40,414.50 537.56,414.50 540.00,414.50 541.68,431.47 545.81,473.02 549.93,514.58 551.50,530.40 554.05,531.29 555.00,531.62 558.18,532.74 561.50,533.90 562.00,533.22 562.30,532.82 566.42,527.24 566.60,527.00 570.55,530.61 571.30,531.29 572.40,532.30 572.90,534.89 574.67,544.04 577.60,559.20 577.80,559.21 578.79,559.25 582.92,559.44 587.04,559.63 587.40,559.65 591.16,559.82 592.70,559.89 595.29,560.01 599.41,560.20 603.10,560.37 603.53,560.39 603.70,560.40 607.66,562.23 608.30,562.53 611.78,564.13 615.90,566.04 618.00,567.01 618.20,567.65 620.03,567.64 624.15,567.72 625.00,567.72 628.27,566.90 629.20,566.90 632.40,567.65 636.52,567.49 639.70,566.72 640.64,566.72 644.77,567.00 648.89,566.50 650.20,566.50 653.01,567.49 657.14,567.27 661.26,567.58 663.00,567.58 665.38,567.44 669.51,567.25 673.63,567.34 675.00,567.34 675.10,567.36 677.75,567.86 680.00,567.82 680.40,567.93 681.88,569.72 686.00,575.43 686.00,579.00 681.88,577.83 680.40,577.41 680.00,577.30 677.75,577.30 675.10,577.29 675.00,577.29 673.63,577.29 669.51,577.28 665.38,577.27 663.00,577.27 661.26,577.27 657.14,577.26 653.01,577.25 650.20,577.25 648.89,577.24 644.77,577.24 640.64,577.23 639.70,577.23 636.52,577.22 632.40,577.21 629.20,577.21 628.27,577.21 625.00,577.20 624.15,577.05 620.03,576.35 618.20,576.03 618.00,576.00 615.90,575.98 611.78,575.95 608.30,575.93 607.66,575.92 603.70,575.89 603.53,575.89 603.10,575.89 599.41,575.86 595.29,575.83 592.70,575.81 591.16,575.80 587.40,575.77 587.04,575.77 582.92,575.74 578.79,575.71 577.80,575.70 577.60,575.49 574.67,572.34 572.90,570.44 572.40,569.90 571.30,570.17 570.55,570.36 566.60,571.35 566.42,571.39 562.30,572.42 562.00,572.50 561.50,572.49 558.18,572.39 555.00,572.30 554.05,572.27 551.50,572.20 549.93,568.22 545.81,557.76 541.68,547.30 540.00,543.03 537.56,536.84 536.40,533.90 533.44,545.33 533.00,547.01 529.31,561.22 527.50,568.22 526.00,574.00 525.19,574.16 521.07,574.99 520.70,575.06 516.94,575.81 515.50,576.10 515.00,576.20 512.82,576.20 508.70,575.27 504.57,575.38 500.45,575.80 496.33,576.20 492.20,576.21 488.08,576.21 483.96,576.21 479.83,575.40 475.71,575.12 471.59,575.89 467.46,575.77 463.34,576.21 459.22,576.21 455.09,576.21 450.97,575.12 446.85,575.73 442.72,576.22 438.60,575.40 434.48,575.77 430.35,576.22 430.00,576.22 426.23,576.22 422.11,575.50 417.98,575.47 413.86,576.22 409.74,576.11 405.61,576.22 401.49,575.05 397.37,576.23 393.24,575.64 389.12,576.23 385.00,576.23 380.87,576.23 376.75,576.23 372.63,576.23 370.00,576.23 368.50,576.23 364.38,576.23 360.26,576.23 356.13,576.16 352.01,575.43 347.89,576.24 343.76,575.83 339.64,576.24 335.52,575.17 331.39,575.87 327.27,576.24 323.15,576.24 319.02,576.16 314.90,576.24 310.78,576.25 306.65,576.25 302.53,575.81 298.41,576.25 294.28,576.25 290.16,575.28 286.04,575.73 281.91,576.25 277.79,576.25 273.67,575.33 269.54,576.02 265.42,576.26 261.30,576.26 257.17,575.94 253.05,575.72 248.93,575.89 244.80,576.26 240.68,575.74 236.56,576.26 232.43,575.14 228.31,576.26 224.19,576.26 220.06,576.27 215.94,576.27 211.82,576.27 207.69,576.27 203.57,576.27 199.45,575.74 195.32,576.11 191.20,576.27 187.08,576.27 182.95,576.27 178.83,575.54 174.71,576.25 170.58,576.28 166.46,576.28 162.34,575.26 158.21,575.76 154.09,576.28 149.97,575.85 145.84,576.28 141.72,575.71 137.60,576.28 133.47,575.63 129.35,576.22 125.23,575.22 121.10,575.53 116.98,575.97 112.86,575.51 108.73,576.29 104.61,575.52 100.49,576.29 96.36,576.29 92.24,575.42 88.12,576.30 83.99,576.30 79.87,576.30 75.75,575.71 71.62,576.30 67.50,576.30" fill="#9cb4cb"/><polygon points="67.50,576.30 71.62,576.30 75.75,575.71 79.87,576.30 83.99,576.30 88.12,576.30 92.24,575.42 96.36,576.29 100.49,576.29 104.61,575.52 108.73,576.29 112.86,575.51 116.98,575.97 121.10,575.53 125.23,575.22 129.35,576.22 133.47,575.63 137.60,576.28 141.72,575.71 145.84,576.28 149.97,575.85 154.09,576.28 158.21,575.76 162.34,575.26 166.46,576.28 170.58,576.28 174.71,576.25 178.83,575.54 182.95,576.27 187.08,576.27 191.20,576.27 195.32,576.11 199.45,575.74 203.57,576.27 207.69,576.27 211.82,576.27 215.94,576.27 220.06,576.27 224.19,576.26 228.31,576.26 232.43,575.14 236.56,576.26 240.68,575.74 244.80,576.26 248.93,575.89 253.05,575.72 257.17,575.94 261.30,576.26 265.42,576.26 269.54,576.02 273.67,575.33 277.79,576.25 281.91,576.25 286.04,575.73 290.16,575.28 294.28,576.25 298.41,576.25 302.53,575.81 306.65,576.25 310.78,576.25 314.90,576.24 319.02,576.16 323.15,576.24 327.27,576.24 331.39,575.87 335.52,575.17 339.64,576.24 343.76,575.83 347.89,576.24 352.01,575.43 356.13,576.16 360.26,576.23 364.38,576.23 368.50,576.23 370.00,576.23 372.63,576.23 376.75,576.23 380.87,576.23 385.00,576.23 389.12,576.23 393.24,575.64 397.37,576.23 401.49,575.05 405.61,576.22 409.74,576.11 413.86,576.22 417.98,575.47 422.11,575.50 426.23,576.22 430.00,576.22 430.35,576.22 434.48,575.77 438.60,575.40 442.72,576.22 446.85,575.73 450.97,575.12 455.09,576.21 459.22,576.21 463.34,576.21 467.46,575.77 471.59,575.89 475.71,575.12 479.83,575.40 483.96,576.21 488.08,576.21 492.20,576.21 496.33,576.20 500.45,575.80 504.57,575.38 508.70,575.27 512.82,576.20 515.00,576.20 515.50,576.10 516.94,575.81 520.70,575.06 521.07,574.99 525.19,574.16 526.00,574.00 527.50,568.22 529.31,561.22 533.00,547.01 533.44,545.33 536.40,533.90 537.56,536.84 540.00,543.03 541.68,547.30 545.81,557.76 549.93,568.22 551.50,572.20 554.05,572.27 555.00,572.30 558.18,572.39 561.50,572.49 562.00,572.50 562.30,572.42 566.42,571.39 566.60,571.35 570.55,570.36 571.30,570.17 572.40,569.90 572.90,570.44 574.67,572.34 577.60,575.49 577.80,575.70 578.79,575.71 582.92,575.74 587.04,575.77 587.40,575.77 591.16,575.80 592.70,575.81 595.29,575.83 599.41,575.86 603.10,575.89 603.53,575.89 603.70,575.89 607.66,575.92 608.30,575.93 611.78,575.95 615.90,575.98 618.00,576.00 618.20,576.03 620.03,576.35 624.15,577.05 625.00,577.20 628.27,577.21 629.20,577.21 632.40,577.21 636.52,577.22 639.70,577.23 640.64,577.23 644.77,577.24 648.89,577.24 650.20,577.25 653.01,577.25 657.14,577.26 661.26,577.27 663.00,577.27 665.38,577.27 669.51,577.28 673.63,577.29 675.00,577.29 675.10,577.29 677.75,577.30 680.00,577.30 680.40,577.41 681.88,577.83 686.00,579.00 686.00,579.50 681.88,579.50 680.40,579.50 680.00,579.50 677.75,579.50 675.10,579.50 675.00,579.50 673.63,579.50 669.51,579.50 665.38,579.50 663.00,579.50 661.26,579.50 657.14,579.50 653.01,579.50 650.20,579.50 648.89,579.50 644.77,579.50 640.64,579.50 639.70,579.50 636.52,579.50 632.40,579.50 629.20,579.50 628.27,579.50 625.00,579.50 624.15,579.50 620.03,579.50 618.20,579.50 618.00,579.50 615.90,579.50 611.78,579.50 608.30,579.50 607.66,579.50 603.70,579.50 603.53,579.50 603.10,579.50 599.41,579.50 595.29,579.50 592.70,579.50 591.16,579.50 587.40,579.50 587.04,579.50 582.92,579.50 578.79,579.50 577.80,579.50 577.60,579.50 574.67,579.50 572.90,579.50 572.40,579.50 571.30,579.50 570.55,579.50 566.60,579.50 566.42,579.50 562.30,579.50 562.00,579.50 561.50,579.50 558.18,579.50 555.00,579.50 554.05,579.50 551.50,579.50 549.93,579.50 545.81,579.50 541.68,579.50 540.00,579.50 537.56,579.50 536.40,579.50 533.44,579.50 533.00,579.50 529.31,579.50 527.50,579.50 526.00,579.50 525.19,579.50 521.07,579.50 520.70,579.50 516.94,579.50 515.50,579.50 515.00,579.50 512.82,579.50 508.70,579.50 504.57,579.50 500.45,579.50 496.33,579.50 492.20,579.50 488.08,579.50 483.96,579.50 479.83,579.50 475.71,579.50 471.59,579.50 467.46,579.50 463.34,579.50 459.22,579.50 455.09,579.50 450.97,579.50 446.85,579.50 442.72,579.50 438.60,579.50 434.48,579.50 430.35,579.50 430.00,579.50 426.23,579.50 422.11,579.50 417.98,579.50 413.86,579.50 409.74,579.50 405.61,579.50 401.49,579.50 397.37,579.50 393.24,579.50 389.12,579.50 385.00,579.50 380.87,579.50 376.75,579.50 372.63,579.50 370.00,579.50 368.50,579.50 364.38,579.50 360.26,579.50 356.13,579.50 352.01,579.50 347.89,579.50 343.76,579.50 339.64,579.50 335.52,579.50 331.39,579.50 327.27,579.50 323.15,579.50 319.02,579.50 314.90,579.50 310.78,579.50 306.65,579.50 302.53,579.50 298.41,579.50 294.28,579.50 290.16,579.50 286.04,579.50 281.91,579.50 277.79,579.50 273.67,579.50 269.54,579.50 265.42,579.50 261.30,579.50 257.17,579.50 253.05,579.50 248.93,579.50 244.80,579.50 240.68,579.50 236.56,579.50 232.43,579.50 228.31,579.50 224.19,579.50 220.06,579.50 215.94,579.50 211.82,579.50 207.69,579.50 203.57,579.50 199.45,579.50 195.32,579.50 191.20,579.50 187.08,579.50 182.95,579.50 178.83,579.50 174.71,579.50 170.58,579.50 166.46,579.50 162.34,579.50 158.21,579.50 154.09,579.50 149.97,579.50 145.84,579.50 141.72,579.50 137.60,579.50 133.47,579.50 129.35,579.50 125.23,579.50 121.10,579.50 116.98,579.50 112.86,579.50 108.73,579.50 104.61,579.50 100.49,579.50 96.36,579.50 92.24,579.50 88.12,579.50 83.99,579.50 79.87,579.50 75.75,579.50 71.62,579.50 67.50,579.50" fill="#f5e3af"/></g><line x1="67.5" y1="414.5" x2="686.0" y2="414.5" stroke="rgba(36,41,46,0.09)" stroke-width="1"/><line x1="67.5" y1="455.75" x2="686.0" y2="455.75" stroke="rgba(36,41,46,0.09)" stroke-width="1"/><line x1="67.5" y1="497" x2="686.0" y2="497" stroke="rgba(36,41,46,0.09)" stroke-width="1"/><line x1="67.5" y1="538.25" x2="686.0" y2="538.25" stroke="rgba(36,41,46,0.09)" stroke-width="1"/><line x1="169.4" y1="414.5" x2="169.4" y2="584.5" stroke="rgba(36,41,46,0.09)" stroke-width="1"/><line x1="273.2" y1="414.5" x2="273.2" y2="584.5" stroke="rgba(36,41,46,0.09)" stroke-width="1"/><line x1="376.5" y1="414.5" x2="376.5" y2="584.5" stroke="rgba(36,41,46,0.09)" stroke-width="1"/><line x1="479.6" y1="414.5" x2="479.6" y2="584.5" stroke="rgba(36,41,46,0.09)" stroke-width="1"/><line x1="582.9" y1="414.5" x2="582.9" y2="584.5" stroke="rgba(36,41,46,0.09)" stroke-width="1"/><line x1="686.0" y1="414.5" x2="686.0" y2="584.5" stroke="rgba(36,41,46,0.09)" stroke-width="1"/><clipPath id="cpuclip2"><rect x="66.5" y="415.4" width="620.5" height="165.0"/></clipPath><g clip-path="url(#cpuclip2)"><polyline points="67.50,576.30 71.62,576.30 75.75,575.71 79.87,576.30 83.99,576.30 88.12,576.30 92.24,575.42 96.36,576.29 100.49,576.29 104.61,575.52 108.73,576.29 112.86,575.51 116.98,575.97 121.10,575.53 125.23,575.22 129.35,576.22 133.47,575.63 137.60,576.28 141.72,575.71 145.84,576.28 149.97,575.85 154.09,576.28 158.21,575.76 162.34,575.26 166.46,576.28 170.58,576.28 174.71,576.25 178.83,575.54 182.95,576.27 187.08,576.27 191.20,576.27 195.32,576.11 199.45,575.74 203.57,576.27 207.69,576.27 211.82,576.27 215.94,576.27 220.06,576.27 224.19,576.26 228.31,576.26 232.43,575.14 236.56,576.26 240.68,575.74 244.80,576.26 248.93,575.89 253.05,575.72 257.17,575.94 261.30,576.26 265.42,576.26 269.54,576.02 273.67,575.33 277.79,576.25 281.91,576.25 286.04,575.73 290.16,575.28 294.28,576.25 298.41,576.25 302.53,575.81 306.65,576.25 310.78,576.25 314.90,576.24 319.02,576.16 323.15,576.24 327.27,576.24 331.39,575.87 335.52,575.17 339.64,576.24 343.76,575.83 347.89,576.24 352.01,575.43 356.13,576.16 360.26,576.23 364.38,576.23 368.50,576.23 370.00,576.23 372.63,576.23 376.75,576.23 380.87,576.23 385.00,576.23 389.12,576.23 393.24,575.64 397.37,576.23 401.49,575.05 405.61,576.22 409.74,576.11 413.86,576.22 417.98,575.47 422.11,575.50 426.23,576.22 430.00,576.22 430.35,576.22 434.48,575.77 438.60,575.40 442.72,576.22 446.85,575.73 450.97,575.12 455.09,576.21 459.22,576.21 463.34,576.21 467.46,575.77 471.59,575.89 475.71,575.12 479.83,575.40 483.96,576.21 488.08,576.21 492.20,576.21 496.33,576.20 500.45,575.80 504.57,575.38 508.70,575.27 512.82,576.20 515.00,576.20 515.50,576.10 516.94,575.81 520.70,575.06 521.07,574.99 525.19,574.16 526.00,574.00 527.50,568.22 529.31,561.22 533.00,547.01 533.44,545.33 536.40,533.90 537.56,536.84 540.00,543.03 541.68,547.30 545.81,557.76 549.93,568.22 551.50,572.20 554.05,572.27 555.00,572.30 558.18,572.39 561.50,572.49 562.00,572.50 562.30,572.42 566.42,571.39 566.60,571.35 570.55,570.36 571.30,570.17 572.40,569.90 572.90,570.44 574.67,572.34 577.60,575.49 577.80,575.70 578.79,575.71 582.92,575.74 587.04,575.77 587.40,575.77 591.16,575.80 592.70,575.81 595.29,575.83 599.41,575.86 603.10,575.89 603.53,575.89 603.70,575.89 607.66,575.92 608.30,575.93 611.78,575.95 615.90,575.98 618.00,576.00 618.20,576.03 620.03,576.35 624.15,577.05 625.00,577.20 628.27,577.21 629.20,577.21 632.40,577.21 636.52,577.22 639.70,577.23 640.64,577.23 644.77,577.24 648.89,577.24 650.20,577.25 653.01,577.25 657.14,577.26 661.26,577.27 663.00,577.27 665.38,577.27 669.51,577.28 673.63,577.29 675.00,577.29 675.10,577.29 677.75,577.30 680.00,577.30 680.40,577.41 681.88,577.83 686.00,579.00" fill="none" stroke="#c9a640" stroke-width="1.3" stroke-opacity="0.9" stroke-linejoin="round"/><polyline points="67.50,559.54 71.62,560.07 75.75,560.10 79.87,561.30 83.99,560.36 88.12,561.36 92.24,559.71 96.36,560.11 100.49,560.87 104.61,561.43 108.73,560.39 112.86,559.85 116.98,559.60 121.10,560.58 125.23,559.77 129.35,561.25 133.47,561.33 137.60,559.76 141.72,559.99 145.84,561.25 149.97,560.86 154.09,561.25 158.21,560.15 162.34,559.63 166.46,560.02 170.58,561.23 174.71,559.97 178.83,560.16 182.95,560.33 187.08,560.33 191.20,560.31 195.32,561.54 199.45,559.70 203.57,559.34 207.69,561.60 211.82,561.44 215.94,561.70 220.06,560.38 224.19,561.62 228.31,561.56 232.43,559.87 236.56,561.13 240.68,561.35 244.80,560.93 248.93,560.59 253.05,560.04 257.17,560.16 261.30,559.89 265.42,559.51 269.54,560.76 273.67,560.03 277.79,561.29 281.91,559.46 286.04,561.52 290.16,561.01 294.28,561.57 298.41,561.50 302.53,561.51 306.65,560.74 310.78,559.39 314.90,561.14 319.02,559.77 323.15,560.08 327.27,560.95 331.39,560.62 335.52,560.35 339.64,561.61 343.76,560.83 347.89,560.18 352.01,559.97 356.13,561.43 360.26,560.51 364.38,561.24 368.50,560.21 370.00,560.21 372.63,559.84 376.75,560.65 380.87,561.33 385.00,559.78 389.12,561.27 393.24,561.58 397.37,561.31 401.49,561.35 405.61,559.39 409.74,560.89 413.86,561.45 417.98,559.50 422.11,560.03 426.23,560.02 430.00,560.65 430.35,560.65 434.48,560.40 438.60,560.52 442.72,561.25 446.85,559.39 450.97,559.52 455.09,559.69 459.22,559.69 463.34,559.55 467.46,561.73 471.59,561.44 475.71,559.60 479.83,560.60 483.96,560.15 488.08,560.15 492.20,560.24 496.33,560.95 500.45,560.80 504.57,560.26 508.70,559.86 512.82,560.60 515.00,560.60 515.50,560.60 516.94,556.08 520.70,544.30 521.07,544.22 525.19,543.37 526.00,543.20 527.50,515.62 529.31,482.28 533.00,414.50 533.44,414.50 536.40,414.50 537.56,414.50 540.00,414.50 541.68,431.47 545.81,473.02 549.93,514.58 551.50,530.40 554.05,531.29 555.00,531.62 558.18,532.74 561.50,533.90 562.00,533.22 562.30,532.82 566.42,527.24 566.60,527.00 570.55,530.61 571.30,531.29 572.40,532.30 572.90,534.89 574.67,544.04 577.60,559.20 577.80,559.21 578.79,559.25 582.92,559.44 587.04,559.63 587.40,559.65 591.16,559.82 592.70,559.89 595.29,560.01 599.41,560.20 603.10,560.37 603.53,560.39 603.70,560.40 607.66,562.23 608.30,562.53 611.78,564.13 615.90,566.04 618.00,567.01 618.20,567.65 620.03,567.64 624.15,567.72 625.00,567.72 628.27,566.90 629.20,566.90 632.40,567.65 636.52,567.49 639.70,566.72 640.64,566.72 644.77,567.00 648.89,566.50 650.20,566.50 653.01,567.49 657.14,567.27 661.26,567.58 663.00,567.58 665.38,567.44 669.51,567.25 673.63,567.34 675.00,567.34 675.10,567.36 677.75,567.86 680.00,567.82 680.40,567.93 681.88,569.72 686.00,575.43" fill="none" stroke="#24305e" stroke-width="1.6" stroke-opacity="1" stroke-linejoin="round"/><polyline points="67.50,546.24 71.62,547.71 75.75,546.88 79.87,548.00 83.99,548.10 88.12,545.41 92.24,545.16 96.36,549.12 100.49,546.34 104.61,546.22 108.73,549.88 112.86,547.36 116.98,549.12 121.10,547.39 125.23,548.17 129.35,545.82 133.47,548.15 137.60,549.27 141.72,547.61 145.84,548.66 149.97,548.32 154.09,545.41 158.21,548.74 162.34,547.94 166.46,546.55 170.58,545.25 174.71,549.25 178.83,547.37 182.95,548.55 187.08,549.32 191.20,548.53 195.32,549.52 199.45,547.00 203.57,548.94 207.69,547.23 211.82,549.59 215.94,549.32 220.06,545.57 224.19,545.75 228.31,546.14 232.43,549.73 236.56,547.19 240.68,548.11 244.80,546.54 248.93,547.53 253.05,546.95 257.17,546.78 261.30,547.91 265.42,547.90 269.54,549.44 273.67,548.37 277.79,549.56 281.91,549.21 286.04,549.86 290.16,548.32 294.28,545.88 298.41,549.23 302.53,549.73 306.65,549.44 310.78,547.83 314.90,548.53 319.02,546.11 323.15,549.09 327.27,547.85 331.39,546.47 335.52,545.40 339.64,549.20 343.76,549.85 347.89,545.52 352.01,548.94 356.13,547.07 360.26,545.82 364.38,546.51 368.50,548.79 370.00,548.79 372.63,549.38 376.75,545.54 380.87,548.41 385.00,545.82 389.12,549.19 393.24,547.46 397.37,550.24 401.49,550.86 405.61,548.71 409.74,551.22 413.86,548.05 417.98,547.07 422.11,549.72 426.23,547.12 430.00,548.05 430.35,548.05 434.48,549.11 438.60,550.13 442.72,548.00 446.85,547.50 450.97,551.51 455.09,548.90 459.22,552.04 463.34,551.79 467.46,549.35 471.59,549.80 475.71,550.13 479.83,550.77 483.96,550.59 488.08,550.46 492.20,550.80 496.33,552.39 500.45,550.36 504.57,550.04 508.70,551.48 512.82,550.47 515.00,550.49 515.50,550.50 516.94,543.64 520.70,525.80 521.07,525.63 525.19,523.77 526.00,523.40 527.50,414.50 529.31,414.50 533.00,414.50 533.44,414.50 536.40,414.50 537.56,414.50 540.00,414.50 541.68,414.50 545.81,414.50 549.93,414.50 551.50,414.50 554.05,414.50 555.00,414.50 558.18,458.09 561.50,503.70 562.00,499.15 562.30,496.42 566.42,458.89 566.60,457.28 570.55,421.36 571.30,414.50 572.40,414.50 572.90,414.50 574.67,459.84 577.60,534.90 577.80,534.97 578.79,535.31 582.92,536.74 587.04,538.18 587.40,538.30 591.16,546.61 592.70,550.00 595.29,548.26 599.41,545.48 603.10,543.00 603.53,543.53 603.70,543.74 607.66,548.61 608.30,549.40 611.78,552.67 615.90,556.54 618.00,558.51 618.20,558.70 620.03,558.98 624.15,559.62 625.00,559.75 628.27,560.26 629.20,560.40 632.40,560.22 636.52,559.98 639.70,559.80 640.64,559.96 644.77,560.67 648.89,561.38 650.20,561.60 653.01,561.07 657.14,560.30 661.26,559.53 663.00,559.20 665.38,558.29 669.51,556.73 673.63,555.16 675.00,554.64 675.10,554.60 677.75,556.90 680.00,558.85 680.40,559.20 681.88,562.73 686.00,572.60" fill="none" stroke="#7a2a2a" stroke-width="1.8" stroke-opacity="1" stroke-linejoin="round"/><line x1="67.5" y1="415.0" x2="686.0" y2="415.0" stroke="#a9c79e" stroke-width="1"/></g></svg><svg style="position:absolute;left:0;top:0" width="1425" height="775"><polygon points="779.00,475.00 783.04,475.00 787.08,475.00 791.11,475.00 795.15,475.00 799.19,475.00 803.23,475.00 807.27,475.00 811.30,475.00 815.34,475.00 819.38,475.00 823.42,475.00 827.46,475.00 831.49,475.00 835.53,475.00 839.57,475.00 843.61,475.00 847.65,475.00 851.68,475.00 855.72,475.00 859.76,475.00 863.80,475.00 867.84,475.00 871.87,475.00 875.91,475.00 879.95,475.00 883.99,475.00 888.03,475.00 892.06,475.00 896.10,475.00 900.14,475.00 904.18,475.00 908.22,475.00 912.25,475.00 916.29,475.00 920.33,475.00 924.37,475.00 928.41,475.00 932.44,475.00 936.48,475.00 940.52,475.00 944.56,475.00 948.60,475.00 952.63,475.00 956.67,475.00 960.71,475.00 964.75,475.00 965.00,475.00 968.79,475.00 972.82,475.00 975.00,475.00 976.86,475.00 980.90,475.00 984.94,475.00 988.98,475.00 993.01,475.00 997.05,475.00 1001.09,475.00 1005.13,475.00 1009.17,475.00 1013.20,475.00 1017.24,475.00 1021.28,475.00 1025.32,475.00 1029.36,475.00 1033.39,475.00 1037.43,475.00 1041.47,475.00 1045.51,475.00 1049.55,475.00 1053.58,475.00 1057.62,475.00 1061.66,475.00 1065.70,475.00 1069.74,475.00 1073.77,475.00 1077.81,475.00 1081.85,475.00 1085.89,475.00 1089.93,475.00 1093.96,475.00 1098.00,475.00 1102.04,475.00 1106.08,475.00 1110.12,475.00 1114.15,475.00 1118.19,475.00 1122.23,475.00 1126.27,475.00 1130.31,475.00 1134.34,475.00 1138.38,475.00 1142.42,475.00 1146.46,475.00 1150.50,475.00 1154.53,475.00 1158.57,475.00 1162.61,475.00 1166.65,475.00 1170.69,475.00 1174.72,475.00 1178.76,475.00 1182.80,475.00 1186.84,475.00 1190.88,475.00 1194.91,475.00 1198.95,475.00 1202.99,475.00 1207.03,475.00 1211.07,475.00 1215.10,475.00 1219.14,475.00 1223.18,475.00 1227.22,475.00 1227.90,475.00 1231.26,469.91 1233.00,467.26 1233.50,466.50 1235.29,458.46 1238.70,443.20 1239.33,441.91 1243.37,433.68 1243.90,432.60 1246.50,432.80 1247.41,432.88 1249.00,433.00 1251.45,432.90 1255.48,432.73 1259.52,432.56 1263.20,432.40 1263.56,433.51 1267.60,445.93 1268.40,448.40 1271.64,459.06 1273.50,465.20 1275.67,465.20 1279.71,465.20 1283.75,465.20 1287.79,465.20 1291.83,465.20 1295.86,465.20 1298.00,465.20 1299.90,465.20 1303.94,465.20 1307.98,465.20 1312.02,465.20 1316.05,465.20 1320.09,465.20 1324.13,465.20 1328.17,465.20 1332.21,465.20 1336.24,465.20 1340.28,465.20 1344.32,465.20 1348.36,465.20 1352.40,465.20 1356.43,465.20 1360.47,465.20 1364.51,465.20 1368.55,465.20 1372.59,465.20 1376.62,465.20 1380.66,465.20 1384.70,465.20 1384.70,484.50 1380.66,484.50 1376.62,484.50 1372.59,484.50 1368.55,484.50 1364.51,484.50 1360.47,484.50 1356.43,484.50 1352.40,484.50 1348.36,484.50 1344.32,484.50 1340.28,484.50 1336.24,484.50 1332.21,484.50 1328.17,484.50 1324.13,484.50 1320.09,484.50 1316.05,484.50 1312.02,484.50 1307.98,484.50 1303.94,484.50 1299.90,484.50 1298.00,484.50 1295.86,484.50 1291.83,484.50 1287.79,484.50 1283.75,484.50 1279.71,484.50 1275.67,484.50 1273.50,484.50 1271.64,484.50 1268.40,484.50 1267.60,484.50 1263.56,484.50 1263.20,484.50 1259.52,484.50 1255.48,484.50 1251.45,484.50 1249.00,484.50 1247.41,484.50 1246.50,484.50 1243.90,484.50 1243.37,484.50 1239.33,484.50 1238.70,484.50 1235.29,484.50 1233.50,484.50 1233.00,484.50 1231.26,484.50 1227.90,484.50 1227.22,484.50 1223.18,484.50 1219.14,484.50 1215.10,484.50 1211.07,484.50 1207.03,484.50 1202.99,484.50 1198.95,484.50 1194.91,484.50 1190.88,484.50 1186.84,484.50 1182.80,484.50 1178.76,484.50 1174.72,484.50 1170.69,484.50 1166.65,484.50 1162.61,484.50 1158.57,484.50 1154.53,484.50 1150.50,484.50 1146.46,484.50 1142.42,484.50 1138.38,484.50 1134.34,484.50 1130.31,484.50 1126.27,484.50 1122.23,484.50 1118.19,484.50 1114.15,484.50 1110.12,484.50 1106.08,484.50 1102.04,484.50 1098.00,484.50 1093.96,484.50 1089.93,484.50 1085.89,484.50 1081.85,484.50 1077.81,484.50 1073.77,484.50 1069.74,484.50 1065.70,484.50 1061.66,484.50 1057.62,484.50 1053.58,484.50 1049.55,484.50 1045.51,484.50 1041.47,484.50 1037.43,484.50 1033.39,484.50 1029.36,484.50 1025.32,484.50 1021.28,484.50 1017.24,484.50 1013.20,484.50 1009.17,484.50 1005.13,484.50 1001.09,484.50 997.05,484.50 993.01,484.50 988.98,484.50 984.94,484.50 980.90,484.50 976.86,484.50 975.00,484.50 972.82,484.50 968.79,484.50 965.00,484.50 964.75,484.50 960.71,484.50 956.67,484.50 952.63,484.50 948.60,484.50 944.56,484.50 940.52,484.50 936.48,484.50 932.44,484.50 928.41,484.50 924.37,484.50 920.33,484.50 916.29,484.50 912.25,484.50 908.22,484.50 904.18,484.50 900.14,484.50 896.10,484.50 892.06,484.50 888.03,484.50 883.99,484.50 879.95,484.50 875.91,484.50 871.87,484.50 867.84,484.50 863.80,484.50 859.76,484.50 855.72,484.50 851.68,484.50 847.65,484.50 843.61,484.50 839.57,484.50 835.53,484.50 831.49,484.50 827.46,484.50 823.42,484.50 819.38,484.50 815.34,484.50 811.30,484.50 807.27,484.50 803.23,484.50 799.19,484.50 795.15,484.50 791.11,484.50 787.08,484.50 783.04,484.50 779.00,484.50" fill="#e5a39a"/><polygon points="779.00,484.50 783.04,484.50 787.08,484.50 791.11,484.50 795.15,484.50 799.19,484.50 803.23,484.50 807.27,484.50 811.30,484.50 815.34,484.50 819.38,484.50 823.42,484.50 827.46,484.50 831.49,484.50 835.53,484.50 839.57,484.50 843.61,484.50 847.65,484.50 851.68,484.50 855.72,484.50 859.76,484.50 863.80,484.50 867.84,484.50 871.87,484.50 875.91,484.50 879.95,484.50 883.99,484.50 888.03,484.50 892.06,484.50 896.10,484.50 900.14,484.50 904.18,484.50 908.22,484.50 912.25,484.50 916.29,484.50 920.33,484.50 924.37,484.50 928.41,484.50 932.44,484.50 936.48,484.50 940.52,484.50 944.56,484.50 948.60,484.50 952.63,484.50 956.67,484.50 960.71,484.50 964.75,484.50 965.00,484.50 968.79,484.50 972.82,484.50 975.00,484.50 976.86,484.50 980.90,484.50 984.94,484.50 988.98,484.50 993.01,484.50 997.05,484.50 1001.09,484.50 1005.13,484.50 1009.17,484.50 1013.20,484.50 1017.24,484.50 1021.28,484.50 1025.32,484.50 1029.36,484.50 1033.39,484.50 1037.43,484.50 1041.47,484.50 1045.51,484.50 1049.55,484.50 1053.58,484.50 1057.62,484.50 1061.66,484.50 1065.70,484.50 1069.74,484.50 1073.77,484.50 1077.81,484.50 1081.85,484.50 1085.89,484.50 1089.93,484.50 1093.96,484.50 1098.00,484.50 1102.04,484.50 1106.08,484.50 1110.12,484.50 1114.15,484.50 1118.19,484.50 1122.23,484.50 1126.27,484.50 1130.31,484.50 1134.34,484.50 1138.38,484.50 1142.42,484.50 1146.46,484.50 1150.50,484.50 1154.53,484.50 1158.57,484.50 1162.61,484.50 1166.65,484.50 1170.69,484.50 1174.72,484.50 1178.76,484.50 1182.80,484.50 1186.84,484.50 1190.88,484.50 1194.91,484.50 1198.95,484.50 1202.99,484.50 1207.03,484.50 1211.07,484.50 1215.10,484.50 1219.14,484.50 1223.18,484.50 1227.22,484.50 1227.90,484.50 1231.26,484.50 1233.00,484.50 1233.50,484.50 1235.29,484.50 1238.70,484.50 1239.33,484.50 1243.37,484.50 1243.90,484.50 1246.50,484.50 1247.41,484.50 1249.00,484.50 1251.45,484.50 1255.48,484.50 1259.52,484.50 1263.20,484.50 1263.56,484.50 1267.60,484.50 1268.40,484.50 1271.64,484.50 1273.50,484.50 1275.67,484.50 1279.71,484.50 1283.75,484.50 1287.79,484.50 1291.83,484.50 1295.86,484.50 1298.00,484.50 1299.90,484.50 1303.94,484.50 1307.98,484.50 1312.02,484.50 1316.05,484.50 1320.09,484.50 1324.13,484.50 1328.17,484.50 1332.21,484.50 1336.24,484.50 1340.28,484.50 1344.32,484.50 1348.36,484.50 1352.40,484.50 1356.43,484.50 1360.47,484.50 1364.51,484.50 1368.55,484.50 1372.59,484.50 1376.62,484.50 1380.66,484.50 1384.70,484.50 1384.70,562.30 1380.66,562.30 1376.62,562.30 1372.59,562.30 1368.55,562.30 1364.51,562.30 1360.47,562.30 1356.43,562.30 1352.40,562.30 1348.36,562.30 1344.32,562.30 1340.28,562.30 1336.24,562.30 1332.21,562.30 1328.17,562.30 1324.13,562.30 1320.09,562.30 1316.05,562.30 1312.02,562.30 1307.98,562.30 1303.94,562.30 1299.90,562.30 1298.00,562.30 1295.86,562.54 1291.83,562.98 1287.79,563.43 1283.75,563.87 1279.71,564.32 1275.67,564.76 1273.50,565.00 1271.64,551.25 1268.40,527.37 1267.60,521.45 1263.56,491.66 1263.20,489.00 1259.52,488.94 1255.48,488.87 1251.45,488.80 1249.00,488.76 1247.41,488.73 1246.50,488.72 1243.90,488.68 1243.37,488.67 1239.33,488.60 1238.70,488.59 1235.29,488.53 1233.50,488.50 1233.00,489.84 1231.26,494.51 1227.90,503.50 1227.22,503.50 1223.18,503.51 1219.14,503.52 1215.10,503.53 1211.07,503.53 1207.03,503.54 1202.99,503.55 1198.95,503.56 1194.91,503.57 1190.88,503.57 1186.84,503.58 1182.80,503.59 1178.76,503.60 1174.72,503.61 1170.69,503.61 1166.65,503.62 1162.61,503.63 1158.57,503.64 1154.53,503.65 1150.50,503.65 1146.46,503.66 1142.42,503.67 1138.38,503.68 1134.34,503.68 1130.31,503.69 1126.27,503.70 1122.23,503.71 1118.19,503.72 1114.15,503.72 1110.12,503.73 1106.08,503.74 1102.04,503.75 1098.00,503.76 1093.96,503.76 1089.93,503.77 1085.89,503.78 1081.85,503.79 1077.81,503.80 1073.77,503.80 1069.74,503.81 1065.70,503.82 1061.66,503.83 1057.62,503.84 1053.58,503.84 1049.55,503.85 1045.51,503.86 1041.47,503.87 1037.43,503.88 1033.39,503.88 1029.36,503.89 1025.32,503.90 1021.28,503.91 1017.24,503.92 1013.20,503.92 1009.17,503.93 1005.13,503.94 1001.09,503.95 997.05,503.96 993.01,503.96 988.98,503.97 984.94,503.98 980.90,503.99 976.86,504.00 975.00,504.00 972.82,503.67 968.79,503.07 965.00,502.50 964.75,502.50 960.71,502.50 956.67,502.50 952.63,502.50 948.60,502.50 944.56,502.50 940.52,502.50 936.48,502.50 932.44,502.50 928.41,502.50 924.37,502.50 920.33,502.50 916.29,502.50 912.25,502.50 908.22,502.50 904.18,502.50 900.14,502.50 896.10,502.50 892.06,502.50 888.03,502.50 883.99,502.50 879.95,502.50 875.91,502.50 871.87,502.50 867.84,502.50 863.80,502.50 859.76,502.50 855.72,502.50 851.68,502.50 847.65,502.50 843.61,502.50 839.57,502.50 835.53,502.50 831.49,502.50 827.46,502.50 823.42,502.50 819.38,502.50 815.34,502.50 811.30,502.50 807.27,502.50 803.23,502.50 799.19,502.50 795.15,502.50 791.11,502.50 787.08,502.50 783.04,502.50 779.00,502.50" fill="#cde0c5"/><polygon points="779.00,502.50 783.04,502.50 787.08,502.50 791.11,502.50 795.15,502.50 799.19,502.50 803.23,502.50 807.27,502.50 811.30,502.50 815.34,502.50 819.38,502.50 823.42,502.50 827.46,502.50 831.49,502.50 835.53,502.50 839.57,502.50 843.61,502.50 847.65,502.50 851.68,502.50 855.72,502.50 859.76,502.50 863.80,502.50 867.84,502.50 871.87,502.50 875.91,502.50 879.95,502.50 883.99,502.50 888.03,502.50 892.06,502.50 896.10,502.50 900.14,502.50 904.18,502.50 908.22,502.50 912.25,502.50 916.29,502.50 920.33,502.50 924.37,502.50 928.41,502.50 932.44,502.50 936.48,502.50 940.52,502.50 944.56,502.50 948.60,502.50 952.63,502.50 956.67,502.50 960.71,502.50 964.75,502.50 965.00,502.50 968.79,503.07 972.82,503.67 975.00,504.00 976.86,504.00 980.90,503.99 984.94,503.98 988.98,503.97 993.01,503.96 997.05,503.96 1001.09,503.95 1005.13,503.94 1009.17,503.93 1013.20,503.92 1017.24,503.92 1021.28,503.91 1025.32,503.90 1029.36,503.89 1033.39,503.88 1037.43,503.88 1041.47,503.87 1045.51,503.86 1049.55,503.85 1053.58,503.84 1057.62,503.84 1061.66,503.83 1065.70,503.82 1069.74,503.81 1073.77,503.80 1077.81,503.80 1081.85,503.79 1085.89,503.78 1089.93,503.77 1093.96,503.76 1098.00,503.76 1102.04,503.75 1106.08,503.74 1110.12,503.73 1114.15,503.72 1118.19,503.72 1122.23,503.71 1126.27,503.70 1130.31,503.69 1134.34,503.68 1138.38,503.68 1142.42,503.67 1146.46,503.66 1150.50,503.65 1154.53,503.65 1158.57,503.64 1162.61,503.63 1166.65,503.62 1170.69,503.61 1174.72,503.61 1178.76,503.60 1182.80,503.59 1186.84,503.58 1190.88,503.57 1194.91,503.57 1198.95,503.56 1202.99,503.55 1207.03,503.54 1211.07,503.53 1215.10,503.53 1219.14,503.52 1223.18,503.51 1227.22,503.50 1227.90,503.50 1231.26,494.51 1233.00,489.84 1233.50,488.50 1235.29,488.53 1238.70,488.59 1239.33,488.60 1243.37,488.67 1243.90,488.68 1246.50,488.72 1247.41,488.73 1249.00,488.76 1251.45,488.80 1255.48,488.87 1259.52,488.94 1263.20,489.00 1263.56,491.66 1267.60,521.45 1268.40,527.37 1271.64,551.25 1273.50,565.00 1275.67,564.76 1279.71,564.32 1283.75,563.87 1287.79,563.43 1291.83,562.98 1295.86,562.54 1298.00,562.30 1299.90,562.30 1303.94,562.30 1307.98,562.30 1312.02,562.30 1316.05,562.30 1320.09,562.30 1324.13,562.30 1328.17,562.30 1332.21,562.30 1336.24,562.30 1340.28,562.30 1344.32,562.30 1348.36,562.30 1352.40,562.30 1356.43,562.30 1360.47,562.30 1364.51,562.30 1368.55,562.30 1372.59,562.30 1376.62,562.30 1380.66,562.30 1384.70,562.30 1384.70,586.50 1380.66,586.50 1376.62,586.50 1372.59,586.50 1368.55,586.50 1364.51,586.50 1360.47,586.50 1356.43,586.50 1352.40,586.50 1348.36,586.50 1344.32,586.50 1340.28,586.50 1336.24,586.50 1332.21,586.50 1328.17,586.50 1324.13,586.50 1320.09,586.50 1316.05,586.50 1312.02,586.50 1307.98,586.50 1303.94,586.50 1299.90,586.50 1298.00,586.50 1295.86,586.50 1291.83,586.50 1287.79,586.50 1283.75,586.50 1279.71,586.50 1275.67,586.50 1273.50,586.50 1271.64,572.47 1268.40,548.13 1267.60,542.09 1263.56,511.71 1263.20,509.00 1259.52,509.00 1255.48,509.00 1251.45,509.00 1249.00,509.00 1247.41,509.00 1246.50,509.00 1243.90,509.60 1243.37,509.72 1239.33,510.65 1238.70,510.80 1235.29,507.45 1233.50,505.69 1233.00,505.20 1231.26,524.86 1227.90,562.70 1227.22,562.70 1223.18,563.06 1219.14,562.70 1215.10,562.69 1211.07,562.87 1207.03,562.69 1202.99,562.69 1198.95,562.70 1194.91,562.69 1190.88,562.68 1186.84,562.68 1182.80,562.68 1178.76,562.68 1174.72,562.90 1170.69,563.39 1166.65,562.67 1162.61,562.67 1158.57,562.67 1154.53,562.67 1150.50,563.37 1146.46,562.66 1142.42,562.70 1138.38,562.66 1134.34,562.66 1130.31,562.66 1126.27,563.60 1122.23,562.65 1118.19,562.65 1114.15,562.84 1110.12,562.65 1106.08,562.65 1102.04,562.80 1098.00,562.64 1093.96,562.64 1089.93,562.64 1085.89,562.64 1081.85,562.63 1077.81,562.63 1073.77,563.23 1069.74,562.63 1065.70,562.72 1061.66,562.63 1057.62,562.62 1053.58,562.62 1049.55,562.88 1045.51,563.61 1041.47,562.62 1037.43,562.62 1033.39,563.01 1029.36,562.61 1025.32,562.61 1021.28,562.61 1017.24,562.61 1013.20,562.87 1009.17,563.02 1005.13,563.24 1001.09,563.33 997.05,562.60 993.01,563.15 988.98,562.59 984.94,562.65 980.90,562.84 976.86,562.59 975.00,562.59 972.82,562.92 968.79,562.58 965.00,562.58 964.75,563.21 960.71,562.58 956.67,562.58 952.63,562.58 948.60,562.58 944.56,562.78 940.52,562.57 936.48,562.57 932.44,562.57 928.41,562.57 924.37,562.56 920.33,563.33 916.29,562.85 912.25,562.56 908.22,562.56 904.18,562.56 900.14,562.55 896.10,562.55 892.06,562.55 888.03,562.55 883.99,562.55 879.95,562.54 875.91,562.54 871.87,562.54 867.84,562.54 863.80,562.54 859.76,562.54 855.72,562.56 851.68,562.72 847.65,562.53 843.61,562.54 839.57,562.53 835.53,562.53 831.49,562.52 827.46,563.50 823.42,562.52 819.38,563.33 815.34,562.82 811.30,562.51 807.27,562.51 803.23,563.02 799.19,562.51 795.15,562.51 791.11,562.51 787.08,562.50 783.04,562.50 779.00,562.50" fill="#9aaabb"/><polygon points="779.00,562.50 783.04,562.50 787.08,562.50 791.11,562.51 795.15,562.51 799.19,562.51 803.23,563.02 807.27,562.51 811.30,562.51 815.34,562.82 819.38,563.33 823.42,562.52 827.46,563.50 831.49,562.52 835.53,562.53 839.57,562.53 843.61,562.54 847.65,562.53 851.68,562.72 855.72,562.56 859.76,562.54 863.80,562.54 867.84,562.54 871.87,562.54 875.91,562.54 879.95,562.54 883.99,562.55 888.03,562.55 892.06,562.55 896.10,562.55 900.14,562.55 904.18,562.56 908.22,562.56 912.25,562.56 916.29,562.85 920.33,563.33 924.37,562.56 928.41,562.57 932.44,562.57 936.48,562.57 940.52,562.57 944.56,562.78 948.60,562.58 952.63,562.58 956.67,562.58 960.71,562.58 964.75,563.21 965.00,562.58 968.79,562.58 972.82,562.92 975.00,562.59 976.86,562.59 980.90,562.84 984.94,562.65 988.98,562.59 993.01,563.15 997.05,562.60 1001.09,563.33 1005.13,563.24 1009.17,563.02 1013.20,562.87 1017.24,562.61 1021.28,562.61 1025.32,562.61 1029.36,562.61 1033.39,563.01 1037.43,562.62 1041.47,562.62 1045.51,563.61 1049.55,562.88 1053.58,562.62 1057.62,562.62 1061.66,562.63 1065.70,562.72 1069.74,562.63 1073.77,563.23 1077.81,562.63 1081.85,562.63 1085.89,562.64 1089.93,562.64 1093.96,562.64 1098.00,562.64 1102.04,562.80 1106.08,562.65 1110.12,562.65 1114.15,562.84 1118.19,562.65 1122.23,562.65 1126.27,563.60 1130.31,562.66 1134.34,562.66 1138.38,562.66 1142.42,562.70 1146.46,562.66 1150.50,563.37 1154.53,562.67 1158.57,562.67 1162.61,562.67 1166.65,562.67 1170.69,563.39 1174.72,562.90 1178.76,562.68 1182.80,562.68 1186.84,562.68 1190.88,562.68 1194.91,562.69 1198.95,562.70 1202.99,562.69 1207.03,562.69 1211.07,562.87 1215.10,562.69 1219.14,562.70 1223.18,563.06 1227.22,562.70 1227.90,562.70 1231.26,524.86 1233.00,505.20 1233.50,505.69 1235.29,507.45 1238.70,510.80 1239.33,510.65 1243.37,509.72 1243.90,509.60 1246.50,509.00 1247.41,509.00 1249.00,509.00 1251.45,509.00 1255.48,509.00 1259.52,509.00 1263.20,509.00 1263.56,511.71 1267.60,542.09 1268.40,548.13 1271.64,572.47 1273.50,586.50 1275.67,586.50 1279.71,586.50 1283.75,586.50 1287.79,586.50 1291.83,586.50 1295.86,586.50 1298.00,586.50 1299.90,586.50 1303.94,586.50 1307.98,586.50 1312.02,586.50 1316.05,586.50 1320.09,586.50 1324.13,586.50 1328.17,586.50 1332.21,586.50 1336.24,586.50 1340.28,586.50 1344.32,586.50 1348.36,586.50 1352.40,586.50 1356.43,586.50 1360.47,586.50 1364.51,586.50 1368.55,586.50 1372.59,586.50 1376.62,586.50 1380.66,586.50 1384.70,586.50 1384.70,608.50 1380.66,608.50 1376.62,608.50 1372.59,608.50 1368.55,608.50 1364.51,608.50 1360.47,608.50 1356.43,608.50 1352.40,608.50 1348.36,608.50 1344.32,608.50 1340.28,608.50 1336.24,608.50 1332.21,608.50 1328.17,608.50 1324.13,608.50 1320.09,608.50 1316.05,608.50 1312.02,608.50 1307.98,608.50 1303.94,608.50 1299.90,608.50 1298.00,608.50 1295.86,608.50 1291.83,608.50 1287.79,608.50 1283.75,608.50 1279.71,608.50 1275.67,608.50 1273.50,608.50 1271.64,608.50 1268.40,608.50 1267.60,608.50 1263.56,608.50 1263.20,608.50 1259.52,608.50 1255.48,608.50 1251.45,608.50 1249.00,608.50 1247.41,608.50 1246.50,608.50 1243.90,608.50 1243.37,608.50 1239.33,608.50 1238.70,608.50 1235.29,608.50 1233.50,608.50 1233.00,608.50 1231.26,608.50 1227.90,608.50 1227.22,608.50 1223.18,608.50 1219.14,608.50 1215.10,608.50 1211.07,608.50 1207.03,608.50 1202.99,608.50 1198.95,608.50 1194.91,608.50 1190.88,608.50 1186.84,608.50 1182.80,608.50 1178.76,608.50 1174.72,608.50 1170.69,608.50 1166.65,608.50 1162.61,608.50 1158.57,608.50 1154.53,608.50 1150.50,608.50 1146.46,608.50 1142.42,608.50 1138.38,608.50 1134.34,608.50 1130.31,608.50 1126.27,608.50 1122.23,608.50 1118.19,608.50 1114.15,608.50 1110.12,608.50 1106.08,608.50 1102.04,608.50 1098.00,608.50 1093.96,608.50 1089.93,608.50 1085.89,608.50 1081.85,608.50 1077.81,608.50 1073.77,608.50 1069.74,608.50 1065.70,608.50 1061.66,608.50 1057.62,608.50 1053.58,608.50 1049.55,608.50 1045.51,608.50 1041.47,608.50 1037.43,608.50 1033.39,608.50 1029.36,608.50 1025.32,608.50 1021.28,608.50 1017.24,608.50 1013.20,608.50 1009.17,608.50 1005.13,608.50 1001.09,608.50 997.05,608.50 993.01,608.50 988.98,608.50 984.94,608.50 980.90,608.50 976.86,608.50 975.00,608.50 972.82,608.50 968.79,608.50 965.00,608.50 964.75,608.50 960.71,608.50 956.67,608.50 952.63,608.50 948.60,608.50 944.56,608.50 940.52,608.50 936.48,608.50 932.44,608.50 928.41,608.50 924.37,608.50 920.33,608.50 916.29,608.50 912.25,608.50 908.22,608.50 904.18,608.50 900.14,608.50 896.10,608.50 892.06,608.50 888.03,608.50 883.99,608.50 879.95,608.50 875.91,608.50 871.87,608.50 867.84,608.50 863.80,608.50 859.76,608.50 855.72,608.50 851.68,608.50 847.65,608.50 843.61,608.50 839.57,608.50 835.53,608.50 831.49,608.50 827.46,608.50 823.42,608.50 819.38,608.50 815.34,608.50 811.30,608.50 807.27,608.50 803.23,608.50 799.19,608.50 795.15,608.50 791.11,608.50 787.08,608.50 783.04,608.50 779.00,608.50" fill="#f2df97"/><line x1="779.0" y1="471.6" x2="1384.7" y2="471.6" stroke="rgba(36,41,46,0.09)" stroke-width="1"/><line x1="779.0" y1="540.3" x2="1384.7" y2="540.3" stroke="rgba(36,41,46,0.09)" stroke-width="1"/><line x1="879.7" y1="414.0" x2="879.7" y2="613.0" stroke="rgba(36,41,46,0.09)" stroke-width="1"/><line x1="980.6" y1="414.0" x2="980.6" y2="613.0" stroke="rgba(36,41,46,0.09)" stroke-width="1"/><line x1="1081.6" y1="414.0" x2="1081.6" y2="613.0" stroke="rgba(36,41,46,0.09)" stroke-width="1"/><line x1="1182.5" y1="414.0" x2="1182.5" y2="613.0" stroke="rgba(36,41,46,0.09)" stroke-width="1"/><line x1="1283.5" y1="414.0" x2="1283.5" y2="613.0" stroke="rgba(36,41,46,0.09)" stroke-width="1"/><line x1="1384.4" y1="414.0" x2="1384.4" y2="613.0" stroke="rgba(36,41,46,0.09)" stroke-width="1"/><polyline points="779.00,562.50 783.04,562.50 787.08,562.50 791.11,562.51 795.15,562.51 799.19,562.51 803.23,563.02 807.27,562.51 811.30,562.51 815.34,562.82 819.38,563.33 823.42,562.52 827.46,563.50 831.49,562.52 835.53,562.53 839.57,562.53 843.61,562.54 847.65,562.53 851.68,562.72 855.72,562.56 859.76,562.54 863.80,562.54 867.84,562.54 871.87,562.54 875.91,562.54 879.95,562.54 883.99,562.55 888.03,562.55 892.06,562.55 896.10,562.55 900.14,562.55 904.18,562.56 908.22,562.56 912.25,562.56 916.29,562.85 920.33,563.33 924.37,562.56 928.41,562.57 932.44,562.57 936.48,562.57 940.52,562.57 944.56,562.78 948.60,562.58 952.63,562.58 956.67,562.58 960.71,562.58 964.75,563.21 965.00,562.58 968.79,562.58 972.82,562.92 975.00,562.59 976.86,562.59 980.90,562.84 984.94,562.65 988.98,562.59 993.01,563.15 997.05,562.60 1001.09,563.33 1005.13,563.24 1009.17,563.02 1013.20,562.87 1017.24,562.61 1021.28,562.61 1025.32,562.61 1029.36,562.61 1033.39,563.01 1037.43,562.62 1041.47,562.62 1045.51,563.61 1049.55,562.88 1053.58,562.62 1057.62,562.62 1061.66,562.63 1065.70,562.72 1069.74,562.63 1073.77,563.23 1077.81,562.63 1081.85,562.63 1085.89,562.64 1089.93,562.64 1093.96,562.64 1098.00,562.64 1102.04,562.80 1106.08,562.65 1110.12,562.65 1114.15,562.84 1118.19,562.65 1122.23,562.65 1126.27,563.60 1130.31,562.66 1134.34,562.66 1138.38,562.66 1142.42,562.70 1146.46,562.66 1150.50,563.37 1154.53,562.67 1158.57,562.67 1162.61,562.67 1166.65,562.67 1170.69,563.39 1174.72,562.90 1178.76,562.68 1182.80,562.68 1186.84,562.68 1190.88,562.68 1194.91,562.69 1198.95,562.70 1202.99,562.69 1207.03,562.69 1211.07,562.87 1215.10,562.69 1219.14,562.70 1223.18,563.06 1227.22,562.70 1227.90,562.70 1231.26,524.86 1233.00,505.20 1233.50,505.69 1235.29,507.45 1238.70,510.80 1239.33,510.65 1243.37,509.72 1243.90,509.60 1246.50,509.00 1247.41,509.00 1249.00,509.00 1251.45,509.00 1255.48,509.00 1259.52,509.00 1263.20,509.00 1263.56,511.71 1267.60,542.09 1268.40,548.13 1271.64,572.47 1273.50,586.50 1275.67,586.50 1279.71,586.50 1283.75,586.50 1287.79,586.50 1291.83,586.50 1295.86,586.50 1298.00,586.50 1299.90,586.50 1303.94,586.50 1307.98,586.50 1312.02,586.50 1316.05,586.50 1320.09,586.50 1324.13,586.50 1328.17,586.50 1332.21,586.50 1336.24,586.50 1340.28,586.50 1344.32,586.50 1348.36,586.50 1352.40,586.50 1356.43,586.50 1360.47,586.50 1364.51,586.50 1368.55,586.50 1372.59,586.50 1376.62,586.50 1380.66,586.50 1384.70,586.50" fill="none" stroke="#a08a2c" stroke-width="1.4" stroke-opacity="1" stroke-linejoin="round"/><polyline points="779.00,502.50 783.04,502.50 787.08,502.50 791.11,502.50 795.15,502.50 799.19,502.50 803.23,502.50 807.27,502.50 811.30,502.50 815.34,502.50 819.38,502.50 823.42,502.50 827.46,502.50 831.49,502.50 835.53,502.50 839.57,502.50 843.61,502.50 847.65,502.50 851.68,502.50 855.72,502.50 859.76,502.50 863.80,502.50 867.84,502.50 871.87,502.50 875.91,502.50 879.95,502.50 883.99,502.50 888.03,502.50 892.06,502.50 896.10,502.50 900.14,502.50 904.18,502.50 908.22,502.50 912.25,502.50 916.29,502.50 920.33,502.50 924.37,502.50 928.41,502.50 932.44,502.50 936.48,502.50 940.52,502.50 944.56,502.50 948.60,502.50 952.63,502.50 956.67,502.50 960.71,502.50 964.75,502.50 965.00,502.50 968.79,503.07 972.82,503.67 975.00,504.00 976.86,504.00 980.90,503.99 984.94,503.98 988.98,503.97 993.01,503.96 997.05,503.96 1001.09,503.95 1005.13,503.94 1009.17,503.93 1013.20,503.92 1017.24,503.92 1021.28,503.91 1025.32,503.90 1029.36,503.89 1033.39,503.88 1037.43,503.88 1041.47,503.87 1045.51,503.86 1049.55,503.85 1053.58,503.84 1057.62,503.84 1061.66,503.83 1065.70,503.82 1069.74,503.81 1073.77,503.80 1077.81,503.80 1081.85,503.79 1085.89,503.78 1089.93,503.77 1093.96,503.76 1098.00,503.76 1102.04,503.75 1106.08,503.74 1110.12,503.73 1114.15,503.72 1118.19,503.72 1122.23,503.71 1126.27,503.70 1130.31,503.69 1134.34,503.68 1138.38,503.68 1142.42,503.67 1146.46,503.66 1150.50,503.65 1154.53,503.65 1158.57,503.64 1162.61,503.63 1166.65,503.62 1170.69,503.61 1174.72,503.61 1178.76,503.60 1182.80,503.59 1186.84,503.58 1190.88,503.57 1194.91,503.57 1198.95,503.56 1202.99,503.55 1207.03,503.54 1211.07,503.53 1215.10,503.53 1219.14,503.52 1223.18,503.51 1227.22,503.50 1227.90,503.50 1231.26,494.51 1233.00,489.84 1233.50,488.50 1235.29,488.53 1238.70,488.59 1239.33,488.60 1243.37,488.67 1243.90,488.68 1246.50,488.72 1247.41,488.73 1249.00,488.76 1251.45,488.80 1255.48,488.87 1259.52,488.94 1263.20,489.00 1263.56,491.66 1267.60,521.45 1268.40,527.37 1271.64,551.25 1273.50,565.00 1275.67,564.76 1279.71,564.32 1283.75,563.87 1287.79,563.43 1291.83,562.98 1295.86,562.54 1298.00,562.30 1299.90,562.30 1303.94,562.30 1307.98,562.30 1312.02,562.30 1316.05,562.30 1320.09,562.30 1324.13,562.30 1328.17,562.30 1332.21,562.30 1336.24,562.30 1340.28,562.30 1344.32,562.30 1348.36,562.30 1352.40,562.30 1356.43,562.30 1360.47,562.30 1364.51,562.30 1368.55,562.30 1372.59,562.30 1376.62,562.30 1380.66,562.30 1384.70,562.30" fill="none" stroke="#1f4a5c" stroke-width="1.6" stroke-opacity="1" stroke-linejoin="round"/><polyline points="779.00,484.50 783.04,484.50 787.08,484.50 791.11,484.50 795.15,484.50 799.19,484.50 803.23,484.50 807.27,484.50 811.30,484.50 815.34,484.50 819.38,484.50 823.42,484.50 827.46,484.50 831.49,484.50 835.53,484.50 839.57,484.50 843.61,484.50 847.65,484.50 851.68,484.50 855.72,484.50 859.76,484.50 863.80,484.50 867.84,484.50 871.87,484.50 875.91,484.50 879.95,484.50 883.99,484.50 888.03,484.50 892.06,484.50 896.10,484.50 900.14,484.50 904.18,484.50 908.22,484.50 912.25,484.50 916.29,484.50 920.33,484.50 924.37,484.50 928.41,484.50 932.44,484.50 936.48,484.50 940.52,484.50 944.56,484.50 948.60,484.50 952.63,484.50 956.67,484.50 960.71,484.50 964.75,484.50 965.00,484.50 968.79,484.50 972.82,484.50 975.00,484.50 976.86,484.50 980.90,484.50 984.94,484.50 988.98,484.50 993.01,484.50 997.05,484.50 1001.09,484.50 1005.13,484.50 1009.17,484.50 1013.20,484.50 1017.24,484.50 1021.28,484.50 1025.32,484.50 1029.36,484.50 1033.39,484.50 1037.43,484.50 1041.47,484.50 1045.51,484.50 1049.55,484.50 1053.58,484.50 1057.62,484.50 1061.66,484.50 1065.70,484.50 1069.74,484.50 1073.77,484.50 1077.81,484.50 1081.85,484.50 1085.89,484.50 1089.93,484.50 1093.96,484.50 1098.00,484.50 1102.04,484.50 1106.08,484.50 1110.12,484.50 1114.15,484.50 1118.19,484.50 1122.23,484.50 1126.27,484.50 1130.31,484.50 1134.34,484.50 1138.38,484.50 1142.42,484.50 1146.46,484.50 1150.50,484.50 1154.53,484.50 1158.57,484.50 1162.61,484.50 1166.65,484.50 1170.69,484.50 1174.72,484.50 1178.76,484.50 1182.80,484.50 1186.84,484.50 1190.88,484.50 1194.91,484.50 1198.95,484.50 1202.99,484.50 1207.03,484.50 1211.07,484.50 1215.10,484.50 1219.14,484.50 1223.18,484.50 1227.22,484.50 1227.90,484.50 1231.26,484.50 1233.00,484.50 1233.50,484.50 1235.29,484.50 1238.70,484.50 1239.33,484.50 1243.37,484.50 1243.90,484.50 1246.50,484.50 1247.41,484.50 1249.00,484.50 1251.45,484.50 1255.48,484.50 1259.52,484.50 1263.20,484.50 1263.56,484.50 1267.60,484.50 1268.40,484.50 1271.64,484.50 1273.50,484.50 1275.67,484.50 1279.71,484.50 1283.75,484.50 1287.79,484.50 1291.83,484.50 1295.86,484.50 1298.00,484.50 1299.90,484.50 1303.94,484.50 1307.98,484.50 1312.02,484.50 1316.05,484.50 1320.09,484.50 1324.13,484.50 1328.17,484.50 1332.21,484.50 1336.24,484.50 1340.28,484.50 1344.32,484.50 1348.36,484.50 1352.40,484.50 1356.43,484.50 1360.47,484.50 1364.51,484.50 1368.55,484.50 1372.59,484.50 1376.62,484.50 1380.66,484.50 1384.70,484.50" fill="none" stroke="#8a9c62" stroke-width="1.2" stroke-opacity="1" stroke-linejoin="round"/><polyline points="779.00,475.00 783.04,475.00 787.08,475.00 791.11,475.00 795.15,475.00 799.19,475.00 803.23,475.00 807.27,475.00 811.30,475.00 815.34,475.00 819.38,475.00 823.42,475.00 827.46,475.00 831.49,475.00 835.53,475.00 839.57,475.00 843.61,475.00 847.65,475.00 851.68,475.00 855.72,475.00 859.76,475.00 863.80,475.00 867.84,475.00 871.87,475.00 875.91,475.00 879.95,475.00 883.99,475.00 888.03,475.00 892.06,475.00 896.10,475.00 900.14,475.00 904.18,475.00 908.22,475.00 912.25,475.00 916.29,475.00 920.33,475.00 924.37,475.00 928.41,475.00 932.44,475.00 936.48,475.00 940.52,475.00 944.56,475.00 948.60,475.00 952.63,475.00 956.67,475.00 960.71,475.00 964.75,475.00 965.00,475.00 968.79,475.00 972.82,475.00 975.00,475.00 976.86,475.00 980.90,475.00 984.94,475.00 988.98,475.00 993.01,475.00 997.05,475.00 1001.09,475.00 1005.13,475.00 1009.17,475.00 1013.20,475.00 1017.24,475.00 1021.28,475.00 1025.32,475.00 1029.36,475.00 1033.39,475.00 1037.43,475.00 1041.47,475.00 1045.51,475.00 1049.55,475.00 1053.58,475.00 1057.62,475.00 1061.66,475.00 1065.70,475.00 1069.74,475.00 1073.77,475.00 1077.81,475.00 1081.85,475.00 1085.89,475.00 1089.93,475.00 1093.96,475.00 1098.00,475.00 1102.04,475.00 1106.08,475.00 1110.12,475.00 1114.15,475.00 1118.19,475.00 1122.23,475.00 1126.27,475.00 1130.31,475.00 1134.34,475.00 1138.38,475.00 1142.42,475.00 1146.46,475.00 1150.50,475.00 1154.53,475.00 1158.57,475.00 1162.61,475.00 1166.65,475.00 1170.69,475.00 1174.72,475.00 1178.76,475.00 1182.80,475.00 1186.84,475.00 1190.88,475.00 1194.91,475.00 1198.95,475.00 1202.99,475.00 1207.03,475.00 1211.07,475.00 1215.10,475.00 1219.14,475.00 1223.18,475.00 1227.22,475.00 1227.90,475.00 1231.26,469.91 1233.00,467.26 1233.50,466.50 1235.29,458.46 1238.70,443.20 1239.33,441.91 1243.37,433.68 1243.90,432.60 1246.50,432.80 1247.41,432.88 1249.00,433.00 1251.45,432.90 1255.48,432.73 1259.52,432.56 1263.20,432.40 1263.56,433.51 1267.60,445.93 1268.40,448.40 1271.64,459.06 1273.50,465.20 1275.67,465.20 1279.71,465.20 1283.75,465.20 1287.79,465.20 1291.83,465.20 1295.86,465.20 1298.00,465.20 1299.90,465.20 1303.94,465.20 1307.98,465.20 1312.02,465.20 1316.05,465.20 1320.09,465.20 1324.13,465.20 1328.17,465.20 1332.21,465.20 1336.24,465.20 1340.28,465.20 1344.32,465.20 1348.36,465.20 1352.40,465.20 1356.43,465.20 1360.47,465.20 1364.51,465.20 1368.55,465.20 1372.59,465.20 1376.62,465.20 1380.66,465.20 1384.70,465.20" fill="none" stroke="#b0281c" stroke-width="1.6" stroke-opacity="1" stroke-linejoin="round"/></svg><svg style="position:absolute;left:0;top:0" width="1425" height="775" font-family="Liberation Sans"><text x="62.00" y="419.10" text-anchor="end" font-size="15.2" fill="#363a3f">100</text><text x="62.00" y="460.35" text-anchor="end" font-size="15.2" fill="#363a3f">75</text><text x="62.00" y="501.60" text-anchor="end" font-size="15.2" fill="#363a3f">50</text><text x="62.00" y="542.85" text-anchor="end" font-size="15.2" fill="#363a3f">25</text><text x="62.00" y="584.10" text-anchor="end" font-size="15.2" fill="#363a3f">0</text><text x="168.90" y="603.00" text-anchor="middle" font-size="15.2" textLength="39.3" lengthAdjust="spacingAndGlyphs" fill="#363a3f">13:50</text><text x="272.70" y="603.00" text-anchor="middle" font-size="15.2" textLength="39.3" lengthAdjust="spacingAndGlyphs" fill="#363a3f">14:00</text><text x="376.00" y="603.00" text-anchor="middle" font-size="15.2" textLength="39.3" lengthAdjust="spacingAndGlyphs" fill="#363a3f">14:10</text><text x="479.10" y="603.00" text-anchor="middle" font-size="15.2" textLength="39.3" lengthAdjust="spacingAndGlyphs" fill="#363a3f">14:20</text><text x="582.40" y="603.00" text-anchor="middle" font-size="15.2" textLength="39.3" lengthAdjust="spacingAndGlyphs" fill="#363a3f">14:30</text><text x="664.5" y="603" font-size="15.2" textLength="30.6" lengthAdjust="spacingAndGlyphs" fill="#363a3f">14:4</text><text x="772.80" y="476.80" text-anchor="end" font-size="15.2" textLength="39.3" lengthAdjust="spacingAndGlyphs" fill="#363a3f">4 GiB</text><text x="772.80" y="545.50" text-anchor="end" font-size="15.2" textLength="39.3" lengthAdjust="spacingAndGlyphs" fill="#363a3f">2 GiB</text><text x="772.80" y="612.80" text-anchor="end" font-size="15.2" textLength="23.6" lengthAdjust="spacingAndGlyphs" fill="#363a3f">0 B</text><text x="878.50" y="631.20" text-anchor="middle" font-size="15.2" textLength="39.3" lengthAdjust="spacingAndGlyphs" fill="#363a3f">13:50</text><text x="979.40" y="631.20" text-anchor="middle" font-size="15.2" textLength="39.3" lengthAdjust="spacingAndGlyphs" fill="#363a3f">14:00</text><text x="1080.40" y="631.20" text-anchor="middle" font-size="15.2" textLength="39.3" lengthAdjust="spacingAndGlyphs" fill="#363a3f">14:10</text><text x="1181.30" y="631.20" text-anchor="middle" font-size="15.2" textLength="39.3" lengthAdjust="spacingAndGlyphs" fill="#363a3f">14:20</text><text x="1282.30" y="631.20" text-anchor="middle" font-size="15.2" textLength="39.3" lengthAdjust="spacingAndGlyphs" fill="#363a3f">14:30</text><text x="1363" y="631.2" font-size="15.2" textLength="30.6" lengthAdjust="spacingAndGlyphs" fill="#363a3f">14:4</text><text x="85.20" y="756.20" text-anchor="end" font-size="15.2" textLength="50.5" lengthAdjust="spacingAndGlyphs" fill="#363a3f">4 Mb/s</text><text x="772.80" y="752.20" text-anchor="end" font-size="15.2" textLength="39" lengthAdjust="spacingAndGlyphs" fill="#5a5e64">100%</text></svg><div class="leg" style="left:35.5px;top:620.10px;background:#EAB839"></div><div class="t" style="left:63px;top:613.10px;font-size:15.8px;line-height:19px;color:#3d4146">Busy System</div><div class="leg" style="left:169.5px;top:620.10px;background:#0A437C"></div><div class="t" style="left:197px;top:613.10px;font-size:15.8px;line-height:19px;color:#3d4146">Busy User</div><div class="leg" style="left:283.5px;top:620.10px;background:#890F02"></div><div class="t" style="left:311px;top:613.10px;font-size:15.8px;line-height:19px;color:#3d4146">Busy Iowait</div><div class="leg" style="left:406px;top:620.10px;background:#F07A22"></div><div class="t" style="left:434px;top:613.10px;font-size:15.8px;line-height:19px;color:#3d4146">Busy IRQs</div><div class="leg" style="left:520px;top:620.10px;background:#6D1F62"></div><div class="t" style="left:547.6px;top:613.10px;font-size:15.8px;line-height:19px;color:#3d4146">Busy Other</div><div class="leg" style="left:35.5px;top:649.10px;background:#7EB26D"></div><div class="t" style="left:63px;top:642.10px;font-size:15.8px;line-height:19px;color:#3d4146">Idle</div><div class="leg" style="left:734.5px;top:649.30px;background:#E0F9D7"></div><div class="t" style="left:762px;top:642.30px;font-size:15.8px;line-height:19px;color:#3d4146">RAM Total</div><div class="leg" style="left:848.5px;top:649.30px;background:#E0B400"></div><div class="t" style="left:875.6px;top:642.30px;font-size:15.8px;line-height:19px;color:#3d4146">RAM Used</div><div class="leg" style="left:964px;top:649.30px;background:#052B51"></div><div class="t" style="left:991.6px;top:642.30px;font-size:15.8px;line-height:19px;color:#3d4146">RAM Cache + Buffer</div><div class="leg" style="left:1152px;top:649.30px;background:#7EB26D"></div><div class="t" style="left:1179.6px;top:642.30px;font-size:15.8px;line-height:19px;color:#3d4146">RAM Free</div><div class="leg" style="left:1262px;top:649.30px;background:#BF1B00"></div><div class="t" style="left:1289.6px;top:642.30px;font-size:15.8px;line-height:19px;color:#3d4146">SWAP Used</div><svg style="position:absolute;left:0;top:0" width="1425" height="775"><line x1="92.4" y1="750.6" x2="685.8" y2="750.6" stroke="rgba(36,41,46,0.09)" stroke-width="1"/><line x1="189.4" y1="747" x2="189.4" y2="775" stroke="rgba(36,41,46,0.09)" stroke-width="1"/><line x1="288.7" y1="747" x2="288.7" y2="775" stroke="rgba(36,41,46,0.09)" stroke-width="1"/><line x1="388.1" y1="747" x2="388.1" y2="775" stroke="rgba(36,41,46,0.09)" stroke-width="1"/><line x1="487.5" y1="747" x2="487.5" y2="775" stroke="rgba(36,41,46,0.09)" stroke-width="1"/><line x1="586.8" y1="747" x2="586.8" y2="775" stroke="rgba(36,41,46,0.09)" stroke-width="1"/><line x1="685.8" y1="747" x2="685.8" y2="775" stroke="rgba(36,41,46,0.09)" stroke-width="1"/><path d="M355.5,775 L358.3,764.5 L361,775 Z" fill="#6fb562"/><line x1="781.2" y1="746.5" x2="1384.7" y2="746.5" stroke="rgba(36,41,46,0.09)" stroke-width="1"/><line x1="880.5" y1="746.5" x2="880.5" y2="775" stroke="rgba(36,41,46,0.09)" stroke-width="1"/><line x1="981.7" y1="746.5" x2="981.7" y2="775" stroke="rgba(36,41,46,0.09)" stroke-width="1"/><line x1="1082.6" y1="746.5" x2="1082.6" y2="775" stroke="rgba(36,41,46,0.09)" stroke-width="1"/><line x1="1183.4" y1="746.5" x2="1183.4" y2="775" stroke="rgba(36,41,46,0.09)" stroke-width="1"/><line x1="1283.3" y1="746.5" x2="1283.3" y2="775" stroke="rgba(36,41,46,0.09)" stroke-width="1"/><line x1="1384.7" y1="746.5" x2="1384.7" y2="775" stroke="rgba(36,41,46,0.09)" stroke-width="1"/><circle cx="323.8" cy="778.6" r="7.9" fill="none" stroke="#8f9295" stroke-width="1.4"/><path d="M327,775.2 A3.6,3.6 0 1 0 327,781" fill="none" stroke="#8f9295" stroke-width="1.3"/><text x="337.5" y="785.2" font-family="Liberation Sans" font-size="17.6" textLength="36" lengthAdjust="spacingAndGlyphs" fill="#8f9295">2025</text><line x1="380.60" y1="771.2" x2="383.20" y2="773.8" stroke="#8f9295" stroke-width="1.4"/><line x1="385.00" y1="773.3" x2="396.90" y2="773.3" stroke="#8f9295" stroke-width="1.4"/><line x1="390.40" y1="770.6" x2="390.40" y2="776" stroke="#8f9295" stroke-width="1.4"/><line x1="398.42" y1="771.2" x2="400.82" y2="773.4" stroke="#8f9295" stroke-width="1.4"/><line x1="403.02" y1="773.2" x2="412.52" y2="773.2" stroke="#8f9295" stroke-width="1.4"/><line x1="405.52" y1="771" x2="405.52" y2="776" stroke="#8f9295" stroke-width="1.4"/><line x1="410.32" y1="771" x2="410.32" y2="776" stroke="#8f9295" stroke-width="1.4"/><line x1="416.44" y1="773.6" x2="432.24" y2="773.6" stroke="#8f9295" stroke-width="1.4"/><line x1="423.94" y1="770.3" x2="423.94" y2="776" stroke="#8f9295" stroke-width="1.4"/><line x1="434.46" y1="772.7" x2="447.46" y2="772.7" stroke="#8f9295" stroke-width="1.4"/><line x1="447.46" y1="772.7" x2="444.76" y2="775" stroke="#8f9295" stroke-width="1.4"/><line x1="454.48" y1="770.8" x2="451.48" y2="775" stroke="#8f9295" stroke-width="1.4"/><line x1="457.08" y1="773.4" x2="467.48" y2="773.4" stroke="#8f9295" stroke-width="1.4"/><line x1="461.08" y1="770.6" x2="461.08" y2="776" stroke="#8f9295" stroke-width="1.4"/><line x1="476.50" y1="770.8" x2="476.50" y2="776" stroke="#8f9295" stroke-width="1.4"/><line x1="470.30" y1="773.7" x2="482.30" y2="773.7" stroke="#8f9295" stroke-width="1.4"/><line x1="486.12" y1="773.3" x2="503.52" y2="773.3" stroke="#8f9295" stroke-width="1.4"/><line x1="494.32" y1="770.8" x2="494.32" y2="776" stroke="#8f9295" stroke-width="1.4"/><line x1="508.54" y1="772.2" x2="508.54" y2="776" stroke="#8f9295" stroke-width="1.4"/><line x1="514.34" y1="772.2" x2="514.34" y2="776" stroke="#8f9295" stroke-width="1.4"/><line x1="521.36" y1="773.4" x2="532.16" y2="773.4" stroke="#8f9295" stroke-width="1.4"/><line x1="521.96" y1="772.6" x2="521.96" y2="776" stroke="#8f9295" stroke-width="1.4"/><line x1="531.56" y1="772.6" x2="531.56" y2="776" stroke="#8f9295" stroke-width="1.4"/><line x1="533.36" y1="773.8" x2="538.36" y2="773.8" stroke="#8f9295" stroke-width="1.4"/><line x1="542.78" y1="771.2" x2="539.78" y2="775" stroke="#8f9295" stroke-width="1.4"/><line x1="549.38" y1="771.5" x2="546.18" y2="775" stroke="#8f9295" stroke-width="1.4"/><line x1="551.78" y1="771.5" x2="555.38" y2="775" stroke="#8f9295" stroke-width="1.4"/><line x1="556.60" y1="773.6" x2="571.80" y2="773.6" stroke="#8f9295" stroke-width="1.4"/><line x1="563.80" y1="771" x2="561.80" y2="775" stroke="#8f9295" stroke-width="1.4"/><line x1="574.22" y1="773.3" x2="578.82" y2="773.3" stroke="#8f9295" stroke-width="1.4"/><line x1="574.72" y1="773.3" x2="574.72" y2="776" stroke="#8f9295" stroke-width="1.4"/><line x1="580.42" y1="773.8" x2="588.62" y2="773.8" stroke="#8f9295" stroke-width="1.4"/><line x1="580.82" y1="773.6" x2="580.82" y2="776" stroke="#8f9295" stroke-width="1.4"/><line x1="588.22" y1="773.6" x2="588.22" y2="776" stroke="#8f9295" stroke-width="1.4"/><line x1="596.64" y1="771.3" x2="593.34" y2="775" stroke="#8f9295" stroke-width="1.4"/><line x1="602.54" y1="771.3" x2="606.34" y2="775" stroke="#8f9295" stroke-width="1.4"/><line x1="609.46" y1="772.9" x2="624.86" y2="772.9" stroke="#8f9295" stroke-width="1.4"/><line x1="624.66" y1="772.9" x2="624.66" y2="776" stroke="#8f9295" stroke-width="1.4"/><line x1="627.88" y1="771.6" x2="627.88" y2="776" stroke="#8f9295" stroke-width="1.4"/><line x1="631.88" y1="771.6" x2="631.88" y2="776" stroke="#8f9295" stroke-width="1.4"/><line x1="634.58" y1="772.8" x2="644.28" y2="772.8" stroke="#8f9295" stroke-width="1.4"/><line x1="634.88" y1="772.8" x2="634.88" y2="776" stroke="#8f9295" stroke-width="1.4"/><line x1="644.70" y1="773.2" x2="650.70" y2="773.2" stroke="#8f9295" stroke-width="1.4"/><line x1="647.50" y1="770.8" x2="647.50" y2="776" stroke="#8f9295" stroke-width="1.4"/><line x1="652.50" y1="773.6" x2="660.30" y2="773.6" stroke="#8f9295" stroke-width="1.4"/><line x1="662.32" y1="772.8" x2="669.12" y2="772.8" stroke="#8f9295" stroke-width="1.4"/><line x1="671.12" y1="772.4" x2="679.12" y2="772.4" stroke="#8f9295" stroke-width="1.4"/><line x1="671.52" y1="772.4" x2="671.52" y2="776" stroke="#8f9295" stroke-width="1.4"/><line x1="679.94" y1="773.4" x2="695.74" y2="773.4" stroke="#8f9295" stroke-width="1.4"/><line x1="686.74" y1="771" x2="684.54" y2="775" stroke="#8f9295" stroke-width="1.4"/></svg></body></html>
